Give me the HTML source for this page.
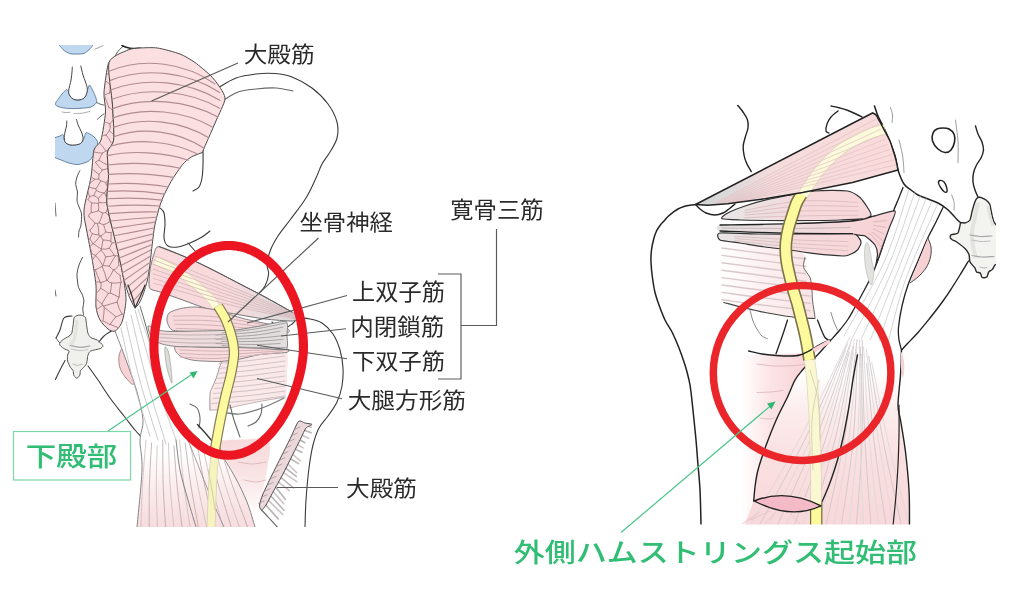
<!DOCTYPE html>
<html lang="ja">
<head>
<meta charset="utf-8">
<title>下殿部・外側ハムストリングス起始部</title>
<style>
html,body{margin:0;padding:0;background:#fff;}
body{width:1024px;height:590px;overflow:hidden;position:relative;font-family:"Liberation Sans","Noto Sans CJK JP",sans-serif;}
svg{position:absolute;left:0;top:0;display:block;}
.lbl{font-family:"Liberation Sans","Noto Sans CJK JP",sans-serif;fill:#2b2b2b;font-weight:400;}
.grn{font-family:"Liberation Sans","Noto Sans CJK JP",sans-serif;fill:#30bd74;font-weight:500;}
.ol{fill:none;stroke:#3a3a3a;stroke-width:1.1;stroke-linecap:round;stroke-linejoin:round;}
.olb{fill:none;stroke:#222;stroke-width:1.6;stroke-linecap:round;stroke-linejoin:round;}
.ld{fill:none;stroke:#5a5a5a;stroke-width:1.15;}
.fib{fill:none;stroke:#b98a8e;stroke-width:0.8;stroke-linecap:round;}
.fibw{fill:none;stroke:#c9c9c9;stroke-width:0.8;stroke-linecap:round;}
</style>
</head>
<body>
<svg width="1024" height="590" viewBox="0 0 1024 590">
<defs>
<filter id="soft" x="-5%" y="-5%" width="110%" height="110%"><feGaussianBlur stdDeviation="0.6"/></filter>
<clipPath id="clipL"><rect x="55" y="45" width="460" height="482"/></clipPath>
<clipPath id="clipR"><rect x="640" y="105" width="356" height="419.5"/></clipPath>
</defs>
<rect x="0" y="0" width="1024" height="590" fill="#ffffff"/>

<!-- ================= LEFT ILLUSTRATION ================= -->
<g id="left" clip-path="url(#clipL)" filter="url(#soft)">
<defs><linearGradient id="gHam" x1="0" y1="0" x2="0" y2="1"><stop offset="0" stop-color="#ffffff"/><stop offset="0.35" stop-color="#fbe9e9"/><stop offset="0.7" stop-color="#f6cfd1"/><stop offset="1" stop-color="#f6cfd1"/></linearGradient><linearGradient id="gAdd" gradientUnits="userSpaceOnUse" x1="0" y1="438" x2="0" y2="515"><stop offset="0" stop-color="#f7d9db"/><stop offset="0.45" stop-color="#f9e3e4"/><stop offset="0.8" stop-color="#fdf3f3"/><stop offset="1" stop-color="#ffffff"/></linearGradient><linearGradient id="gPiri" gradientUnits="userSpaceOnUse" x1="150" y1="0" x2="300" y2="0"><stop offset="0" stop-color="#fadadc"/><stop offset="0.5" stop-color="#f8dadc"/><stop offset="0.72" stop-color="#ebdcdd"/><stop offset="1" stop-color="#dad8d8"/></linearGradient><linearGradient id="gObt" gradientUnits="userSpaceOnUse" x1="150" y1="0" x2="286" y2="0"><stop offset="0" stop-color="#f2dcde"/><stop offset="0.5" stop-color="#ecdddd"/><stop offset="0.7" stop-color="#e5e0e0"/><stop offset="1" stop-color="#e0dede"/></linearGradient></defs>
<defs><linearGradient id="gHamFull" gradientUnits="userSpaceOnUse" x1="0" y1="300" x2="0" y2="527"><stop offset="0" stop-color="#ffffff"/><stop offset="0.68" stop-color="#ffffff"/><stop offset="0.8" stop-color="#fcefef"/><stop offset="0.92" stop-color="#f9e3e4"/><stop offset="1" stop-color="#f7dcde"/></linearGradient></defs>
<path style="fill:#bfd8f0;stroke:#58789a;stroke-width:0.9;" d="M59.0 44.0 C60.7 43.6 71.2 43.0 75.0 43.0 C78.8 43.0 90.1 43.5 92.0 44.0 C93.9 44.5 91.6 46.8 91.0 47.7 C90.4 48.6 87.9 50.8 87.0 51.5 C86.1 52.2 84.9 53.4 83.0 53.7 C81.1 54.0 73.2 54.3 71.0 53.9 C68.8 53.5 65.2 51.4 64.0 50.5 C62.8 49.6 61.1 47.3 60.5 46.5 C59.9 45.7 57.3 44.4 59.0 44.0 Z"/>
<path style="fill:#bfd8f0;stroke:#58789a;stroke-width:0.9;" d="M66.5 89.6 C65.8 89.9 63.0 92.8 62.0 94.0 C61.0 95.2 58.8 98.3 58.0 99.5 C57.2 100.7 55.0 103.2 55.0 104.0 C55.0 104.8 57.0 106.0 58.0 106.5 C59.0 107.0 62.4 107.8 64.0 108.0 C65.6 108.2 69.9 108.6 72.0 108.6 C74.1 108.6 79.8 108.4 82.0 108.2 C84.2 108.0 89.3 107.6 91.0 107.0 C92.7 106.4 95.7 104.0 96.3 103.0 C96.9 102.0 96.4 99.4 96.0 98.0 C95.6 96.6 93.7 92.5 93.0 91.0 C92.3 89.5 90.2 85.1 89.6 85.0 C89.0 84.9 88.0 88.6 87.5 90.0 C87.0 91.4 85.9 95.9 85.0 97.0 C84.1 98.1 81.3 99.5 80.0 99.8 C78.7 100.1 75.4 99.9 74.2 99.5 C73.0 99.1 70.7 97.0 70.0 96.0 C69.3 95.0 68.6 91.7 68.2 91.0 C67.8 90.3 67.2 89.2 66.5 89.6 Z"/>
<path style="fill:#bfd8f0;stroke:#58789a;stroke-width:0.9;" d="M63.2 134.7 C62.6 134.4 60.1 136.0 59.0 136.5 C57.9 137.0 54.6 136.7 54.0 139.0 C53.4 141.3 53.3 153.6 54.0 156.0 C54.7 158.4 58.2 158.7 60.0 159.5 C61.8 160.3 66.9 162.4 69.0 163.0 C71.1 163.6 75.8 164.7 78.0 164.5 C80.2 164.3 86.1 162.6 88.0 161.5 C89.9 160.4 93.0 156.6 94.0 155.0 C95.0 153.4 96.6 149.6 97.0 148.0 C97.4 146.4 97.9 142.7 97.4 141.3 C96.9 139.9 94.3 137.0 93.0 136.0 C91.7 135.0 87.3 132.4 86.3 132.5 C85.3 132.6 85.0 135.9 84.5 137.0 C84.0 138.1 82.8 141.1 82.0 142.0 C81.2 142.9 79.3 144.2 78.0 144.5 C76.7 144.8 72.4 145.2 71.0 145.0 C69.6 144.8 66.8 143.7 66.0 143.0 C65.2 142.3 64.3 140.0 64.0 139.0 C63.7 138.0 63.8 135.0 63.2 134.7 Z"/>
<path style="fill:#fff;" d="M72.3 67.0 C71.3 67.7 72.2 70.5 72.0 72.0 C71.8 73.5 71.4 77.8 71.0 80.0 C70.6 82.2 68.8 88.7 68.7 90.6 C68.6 92.5 69.4 95.0 70.0 96.0 C70.6 97.0 73.0 99.1 74.2 99.5 C75.4 99.9 78.7 100.1 80.0 99.8 C81.3 99.5 84.1 98.2 85.0 97.0 C85.9 95.8 87.3 91.3 87.4 89.6 C87.5 87.8 86.0 83.7 85.5 82.0 C85.0 80.3 83.5 76.9 83.0 75.0 C82.5 73.1 82.0 66.9 80.8 66.0 C79.6 65.1 73.3 66.3 72.3 67.0 Z"/>
<path class="ol" style="stroke:#444;stroke-width:1;" d="M72.3 67.0 C72.2 67.8 72.2 69.8 72.0 72.0 C71.8 74.2 71.5 76.9 71.0 80.0 C70.5 83.1 68.9 87.9 68.7 90.6 C68.5 93.3 69.1 94.5 70.0 96.0 C70.9 97.5 72.5 98.9 74.2 99.5 C75.9 100.1 78.2 100.2 80.0 99.8 C81.8 99.4 83.8 98.7 85.0 97.0 C86.2 95.3 87.3 92.1 87.4 89.6 C87.5 87.1 86.2 84.4 85.5 82.0 C84.8 79.6 83.8 77.7 83.0 75.0 C82.2 72.3 81.2 67.5 80.8 66.0"/>
<path style="fill:#fff;" d="M66.8 121.0 C65.6 121.8 66.7 124.7 66.5 126.0 C66.3 127.3 65.3 130.5 65.0 132.0 C64.7 133.5 64.2 137.7 64.3 139.0 C64.4 140.3 65.2 142.3 66.0 143.0 C66.8 143.7 69.6 144.8 71.0 145.0 C72.4 145.2 76.7 144.8 78.0 144.5 C79.3 144.2 81.4 142.9 82.0 142.0 C82.6 141.1 83.1 138.3 83.0 137.0 C82.9 135.7 81.5 132.3 81.0 131.0 C80.5 129.7 79.0 127.3 78.5 126.0 C78.0 124.7 77.8 120.1 76.4 119.5 C75.0 118.9 68.0 120.2 66.8 121.0 Z"/>
<path class="ol" style="stroke:#444;stroke-width:1;" d="M66.8 121.0 C66.8 121.8 66.8 124.2 66.5 126.0 C66.2 127.8 65.4 129.8 65.0 132.0 C64.6 134.2 64.1 137.2 64.3 139.0 C64.5 140.8 64.9 142.0 66.0 143.0 C67.1 144.0 69.0 144.8 71.0 145.0 C73.0 145.2 76.2 145.0 78.0 144.5 C79.8 144.0 81.2 143.2 82.0 142.0 C82.8 140.8 83.2 138.8 83.0 137.0 C82.8 135.2 81.8 132.8 81.0 131.0 C80.2 129.2 79.3 127.9 78.5 126.0 C77.7 124.1 76.8 120.6 76.4 119.5"/>
<path class="ol" style="stroke:#999;stroke-width:0.8;" d="M62.0 112.0 C62.7 112.1 64.7 112.5 66.0 112.6 C67.3 112.6 69.3 112.3 70.0 112.3"/>
<path class="ol" style="stroke:#999;stroke-width:0.8;" d="M74.0 113.5 C75.3 113.5 79.4 113.5 82.0 113.2 C84.6 112.9 88.2 111.8 89.5 111.5"/>
<path class="ol" style="stroke-width:0.8;" d="M97.4 102.8 C98.0 103.1 99.9 104.1 101.0 104.5 C102.1 104.9 103.5 104.9 104.0 105.0"/>
<path class="ol" style="stroke-width:0.8;" d="M97.4 119.3 C98.0 118.8 99.9 116.9 101.0 116.0 C102.1 115.1 103.5 114.2 104.0 113.8"/>
<path class="ol" style="stroke:#888;stroke-width:0.8;" d="M95.0 49.0 C95.7 48.8 97.7 48.1 99.0 47.5 C100.3 46.9 102.3 45.8 103.0 45.5"/>
<path class="ol" style="stroke:#444;stroke-width:0.9;" d="M112.8 61.0 C113.3 59.9 114.9 56.4 116.0 54.5 C117.1 52.6 118.3 50.8 119.5 49.5 C120.7 48.2 122.4 47.0 123.0 46.5"/>
<path class="ol" style="stroke:#222;stroke-width:1.6;" d="M122.0 45.5 C122.8 45.8 125.2 47.0 127.0 47.5 C128.8 48.0 130.7 48.4 133.0 48.5 C135.3 48.6 139.7 48.2 141.0 48.2"/>
<path class="ol" style="stroke-width:0.9;" d="M79.8 170.8 C79.3 171.8 77.7 174.7 77.0 177.0 C76.3 179.3 75.6 181.9 75.7 184.4 C75.8 186.9 77.3 189.3 77.5 192.0 C77.7 194.7 76.7 197.9 77.0 200.6 C77.3 203.3 78.8 205.8 79.5 208.0 C80.2 210.2 81.2 211.2 81.5 214.0 C81.8 216.8 81.4 222.2 81.0 225.0 C80.6 227.8 79.4 229.0 79.0 231.0 C78.6 233.0 78.6 236.0 78.5 237.0"/>
<path class="ol" style="stroke-width:0.9;" d="M82.5 257.5 C81.9 258.8 79.9 262.3 79.0 265.0 C78.1 267.7 77.2 271.1 77.0 273.8 C76.8 276.5 77.2 278.7 77.5 281.0 C77.8 283.3 77.8 285.2 78.5 287.4 C79.2 289.6 81.1 291.7 82.0 294.0 C82.9 296.3 83.8 298.7 83.9 301.0 C84.0 303.3 82.9 305.8 82.8 308.0 C82.7 310.2 83.4 313.4 83.5 314.5"/>
<path class="ol" style="stroke-width:0.8;" d="M55.0 203.0 C55.2 205.2 55.8 213.8 56.0 216.0"/>
<path class="ol" style="stroke-width:0.8;" d="M55.0 290.0 C55.2 291.0 55.8 295.0 56.0 296.0"/>
<path class="ol" style="stroke-width:0.8;" d="M56.0 338.0 C56.7 338.8 58.7 342.3 60.0 343.0 C61.3 343.7 63.3 342.2 64.0 342.0"/>
<path class="ol" d="M218.0 88.0 C221.0 86.3 229.7 80.3 236.0 78.0 C242.3 75.7 249.5 74.8 256.0 74.0 C262.5 73.2 269.0 73.0 275.0 73.5 C281.0 74.0 285.8 74.6 292.0 77.0 C298.2 79.4 306.0 83.5 312.0 88.0 C318.0 92.5 323.8 98.3 328.0 104.0 C332.2 109.7 335.5 116.3 337.0 122.0 C338.5 127.7 338.2 133.0 337.0 138.0 C335.8 143.0 332.5 147.7 330.0 152.0 C327.5 156.3 324.3 159.7 322.0 164.0 C319.7 168.3 318.7 172.3 316.0 178.0 C313.3 183.7 310.3 191.0 306.0 198.0 C301.7 205.0 294.7 213.7 290.0 220.0 C285.3 226.3 281.2 231.0 278.0 236.0 C274.8 241.0 272.3 245.3 270.5 250.0 C268.7 254.7 267.3 260.0 267.0 264.0 C266.7 268.0 268.9 270.3 268.6 274.0 C268.3 277.7 266.8 282.7 265.0 286.0 C263.2 289.3 259.2 292.7 258.0 294.0"/>
<path class="ol" style="stroke:#666;" d="M224.0 100.0 C226.3 98.7 232.7 93.8 238.0 92.0 C243.3 90.2 249.7 89.7 256.0 89.0 C262.3 88.3 269.8 87.7 276.0 88.0 C282.2 88.3 290.2 90.5 293.0 91.0"/>
<path class="ol" d="M203.0 150.0 C203.0 152.5 203.2 160.3 203.0 165.0 C202.8 169.7 202.7 174.3 202.0 178.0 C201.3 181.7 200.5 184.8 199.0 187.0 C197.5 189.2 194.0 190.3 193.0 191.0"/>
<path class="ol" d="M160.0 208.0 C160.7 208.8 163.2 210.2 164.0 213.0 C164.8 215.8 165.0 220.8 165.0 225.0 C165.0 229.2 163.5 234.5 164.0 238.0 C164.5 241.5 165.7 244.5 168.0 246.0 C170.3 247.5 174.3 247.5 178.0 247.0 C181.7 246.5 186.0 244.7 190.0 243.0 C194.0 241.3 198.7 239.0 202.0 237.0 C205.3 235.0 208.7 232.0 210.0 231.0"/>
<path class="ol" d="M188.0 243.0 C189.3 244.5 194.7 250.5 196.0 252.0"/>
<path class="ol" d="M300.0 318.0 C301.7 318.2 306.3 318.2 310.0 319.0 C313.7 319.8 318.2 320.5 322.0 323.0 C325.8 325.5 330.0 329.5 333.0 334.0 C336.0 338.5 338.3 344.3 340.0 350.0 C341.7 355.7 342.7 362.0 343.0 368.0 C343.3 374.0 343.0 380.3 342.0 386.0 C341.0 391.7 339.3 397.0 337.0 402.0 C334.7 407.0 331.0 411.7 328.0 416.0 C325.0 420.3 321.5 423.2 319.0 428.0 C316.5 432.8 314.7 438.3 313.0 445.0 C311.3 451.7 310.2 458.8 309.0 468.0 C307.8 477.2 306.7 490.2 306.0 500.0 C305.3 509.8 305.2 522.5 305.0 527.0"/>
<path class="ol" d="M272.0 322.0 C272.8 322.8 274.8 326.0 277.0 327.0 C279.2 328.0 282.5 328.5 285.0 328.0 C287.5 327.5 290.0 325.5 292.0 324.0 C294.0 322.5 296.2 319.8 297.0 319.0"/>
<path style="fill:#f0f1ec;stroke:#555;stroke-width:1;" d="M74.4 317.1 C75.2 315.9 78.6 315.0 79.9 315.0 C81.2 315.0 84.5 315.9 85.3 317.1 C86.1 318.3 86.3 323.4 86.6 325.3 C86.9 327.2 87.5 332.0 88.0 333.4 C88.5 334.8 89.6 336.7 90.7 337.5 C91.8 338.3 96.1 339.3 97.5 340.2 C98.9 341.1 102.6 344.6 102.9 345.6 C103.2 346.6 101.6 348.0 100.2 348.6 C98.8 349.2 92.1 350.3 90.7 351.0 C89.3 351.7 88.5 353.6 88.0 355.0 C87.5 356.4 87.2 361.7 86.6 363.3 C86.0 364.9 83.3 367.9 82.6 368.7 C81.9 369.5 80.7 369.8 80.4 370.5 C80.1 371.2 80.3 374.1 79.9 375.0 C79.5 375.9 77.8 378.1 77.1 378.2 C76.4 378.3 74.4 376.4 73.9 375.5 C73.4 374.6 73.4 371.5 73.0 370.5 C72.6 369.5 71.0 368.4 70.4 367.3 C69.8 366.2 67.9 362.4 67.6 361.0 C67.3 359.6 67.4 356.2 67.6 355.0 C67.8 353.8 69.5 351.8 69.0 351.0 C68.5 350.2 64.7 349.3 63.6 348.5 C62.5 347.7 59.7 345.3 59.5 344.3 C59.3 343.3 61.1 341.2 62.2 340.2 C63.3 339.2 67.9 336.9 69.0 336.1 C70.1 335.3 71.2 334.7 71.7 333.4 C72.2 332.1 72.8 327.2 73.1 325.3 C73.4 323.4 73.6 318.3 74.4 317.1 Z"/>
<path style="fill:none;stroke:#e2e4dd;stroke-width:3.5;" d="M77.0 320.0 C76.8 321.7 76.5 326.7 76.0 330.0 C75.5 333.3 75.0 337.5 74.0 340.0 C73.0 342.5 70.7 344.2 70.0 345.0"/>
<path class="ol" style="stroke:#a5a5a5;stroke-width:1.2;" d="M70.0 345.5 C71.7 345.8 76.7 347.2 80.0 347.3 C83.3 347.4 88.3 346.2 90.0 346.0"/>
<path class="ol" style="stroke:#bbb;stroke-width:0.9;" d="M71.0 349.0 C72.5 349.3 77.2 350.5 80.0 350.6 C82.8 350.7 86.7 349.7 88.0 349.5"/>
<path class="ol" style="stroke:#aaa;stroke-width:0.8;" d="M73.0 364.0 C73.7 364.2 75.5 365.2 77.0 365.3 C78.5 365.4 81.2 364.5 82.0 364.3"/>
<path class="ol" d="M72.0 316.0 C70.7 316.3 66.0 315.7 64.0 318.0 C62.0 320.3 61.3 326.7 60.0 330.0 C58.7 333.3 56.7 336.7 56.0 338.0"/>
<path class="ol" d="M65.0 360.5 C64.2 362.1 61.6 366.8 60.0 370.0 C58.4 373.2 56.2 377.9 55.4 379.5"/>
<path class="ol" d="M88.0 366.0 C89.7 368.3 94.3 374.7 98.0 380.0 C101.7 385.3 105.7 392.0 110.0 398.0 C114.3 404.0 119.8 410.7 124.0 416.0 C128.2 421.3 132.2 426.6 135.0 430.0 C137.8 433.4 140.0 435.4 141.0 436.5"/>
<path class="ol" d="M99.0 342.0 C99.8 341.0 101.8 337.9 104.0 336.0 C106.2 334.1 110.7 331.4 112.0 330.5"/>
<path style="fill:#f7d3d6;stroke:#866;stroke-width:0.7;" d="M123.0 347.0 C121.7 348.0 119.5 352.5 119.0 356.0 C118.5 359.5 118.8 364.3 120.0 368.0 C121.2 371.7 123.7 375.3 126.0 378.0 C128.3 380.7 132.8 386.2 134.0 384.0 C135.2 381.8 134.2 370.7 133.0 365.0 C131.8 359.3 128.7 353.0 127.0 350.0 C125.3 347.0 124.3 346.0 123.0 347.0 Z"/>
<path style="fill:url(#gAdd);" d="M217.0 444.0 C216.2 439.8 224.7 440.5 228.0 440.0 C231.3 439.5 241.5 439.7 245.0 439.5 C248.5 439.3 255.3 438.7 258.0 438.5 C260.7 438.3 266.6 436.2 268.0 437.5 C269.4 438.8 270.1 446.2 270.0 450.0 C269.9 453.8 267.8 465.3 267.0 470.0 C266.2 474.7 263.7 485.3 263.0 490.0 C262.3 494.7 261.1 505.7 261.0 510.0 C260.9 514.3 261.4 521.2 262.0 527.0 C262.6 532.8 267.4 556.1 266.0 560.0 C264.6 563.9 251.5 563.9 250.0 560.0 C248.5 556.1 253.7 534.0 253.0 527.0 C252.3 520.0 246.1 505.9 244.0 500.0 C241.9 494.1 238.2 482.5 235.0 476.0 C231.8 469.5 217.8 448.2 217.0 444.0 Z"/>
<path class="fib" style="stroke:#d9b0b4;" d="M238.0 462.0 C240.3 462.3 247.3 464.0 252.0 464.0 C256.7 464.0 263.7 462.3 266.0 462.0"/>
<path class="fib" style="stroke:#d9b0b4;" d="M244.0 480.0 C246.0 480.3 252.3 482.0 256.0 482.0 C259.7 482.0 264.3 480.3 266.0 480.0"/>
<path style="fill:url(#gHamFull);" d="M115.0 331.0 C114.5 326.5 119.7 328.5 122.0 326.0 C124.3 323.5 129.6 314.7 132.0 312.0 C134.4 309.3 138.0 303.6 140.0 306.0 C142.0 308.4 144.7 321.7 147.0 330.0 C149.3 338.3 153.9 358.7 157.0 368.0 C160.1 377.3 166.4 392.5 170.0 400.0 C173.6 407.5 180.0 418.7 184.0 424.0 C188.0 429.3 195.2 436.3 200.0 440.0 C204.8 443.7 215.3 447.1 220.0 452.0 C224.7 456.9 231.4 470.3 235.0 477.0 C238.6 483.7 244.3 495.3 247.0 502.0 C249.7 508.7 253.4 521.3 255.0 527.0 C256.6 532.7 258.1 540.6 259.0 545.0 C259.9 549.4 279.2 558.0 262.0 560.0 C244.8 562.0 146.9 562.0 130.0 560.0 C113.1 558.0 134.1 549.4 135.0 545.0 C135.9 540.6 136.1 537.0 137.0 527.0 C137.9 517.0 141.6 481.6 142.0 470.0 C142.4 458.4 139.9 446.7 140.0 440.0 C140.1 433.3 143.4 426.4 143.0 420.0 C142.6 413.6 139.3 400.0 137.0 392.0 C134.7 384.0 128.9 368.1 126.0 360.0 C123.1 351.9 115.5 335.5 115.0 331.0 Z"/>
<path class="ol" style="stroke:#777;stroke-width:0.9;" d="M115.0 331.0 C116.8 335.8 122.3 349.8 126.0 360.0 C129.7 370.2 134.2 382.0 137.0 392.0 C139.8 402.0 142.5 412.0 143.0 420.0 C143.5 428.0 140.2 431.7 140.0 440.0 C139.8 448.3 142.5 455.5 142.0 470.0 C141.5 484.5 137.8 517.5 137.0 527.0"/>
<path class="ol" style="stroke:#555;stroke-width:0.9;" d="M140.0 306.0 C141.2 310.0 144.2 319.7 147.0 330.0 C149.8 340.3 153.2 356.3 157.0 368.0 C160.8 379.7 165.5 390.7 170.0 400.0 C174.5 409.3 179.0 417.3 184.0 424.0 C189.0 430.7 197.3 437.3 200.0 440.0"/>
<path class="ol" style="stroke:#777;stroke-width:0.9;" d="M220.0 452.0 C222.5 456.2 230.5 468.7 235.0 477.0 C239.5 485.3 243.7 493.7 247.0 502.0 C250.3 510.3 253.7 522.8 255.0 527.0"/>
<path class="fibw" style="stroke:#bdbdbd;" d="M121.0 328.0 C123.1 337.0 128.7 364.0 133.5 382.0 C138.3 400.0 147.2 427.0 150.0 436.0"/>
<path class="fibw" style="stroke:#bdbdbd;" d="M126.0 322.0 C128.3 331.8 134.7 361.3 140.0 381.0 C145.3 400.7 155.0 430.2 158.0 440.0"/>
<path class="fibw" style="stroke:#bdbdbd;" d="M131.0 315.0 C133.6 325.8 140.7 358.0 146.5 379.5 C152.3 401.0 162.8 433.2 166.0 444.0"/>
<path class="fibw" style="stroke:#bdbdbd;" d="M135.0 310.0 C138.1 320.8 146.7 353.3 153.5 375.0 C160.3 396.7 172.2 429.2 176.0 440.0"/>
<path class="fibw" style="stroke:#bdbdbd;" d="M138.0 309.0 C141.7 319.6 152.0 351.3 160.0 372.5 C168.0 393.7 181.7 425.4 186.0 436.0"/>
<path class="fibw" style="stroke:#cbb;stroke-width:0.8;" d="M146.0 440.0 C145.4 447.5 143.3 470.5 142.5 485.0 C141.7 499.5 141.2 520.0 141.0 527.0"/>
<path class="fibw" style="stroke:#b9a6a8;stroke-width:0.8;" d="M151.6 443.0 C151.2 450.0 149.8 471.0 149.4 485.0 C149.0 499.0 149.2 520.0 149.2 527.0"/>
<path class="fibw" style="stroke:#cbb;stroke-width:0.8;" d="M157.2 446.0 C157.0 452.5 156.3 471.5 156.3 485.0 C156.3 498.5 157.2 520.0 157.4 527.0"/>
<path class="fibw" style="stroke:#b9a6a8;stroke-width:0.8;" d="M162.8 440.0 C162.9 447.5 162.7 470.5 163.2 485.0 C163.7 499.5 165.2 520.0 165.6 527.0"/>
<path class="fibw" style="stroke:#cbb;stroke-width:0.8;" d="M168.4 443.0 C168.7 450.0 169.2 471.0 170.1 485.0 C171.0 499.0 173.2 520.0 173.8 527.0"/>
<path class="fibw" style="stroke:#b9a6a8;stroke-width:0.8;" d="M174.0 446.0 C174.5 452.5 175.7 471.5 177.0 485.0 C178.3 498.5 181.2 520.0 182.0 527.0"/>
<path class="fibw" style="stroke:#cbb;stroke-width:0.8;" d="M179.6 440.0 C180.3 447.5 182.1 470.5 183.9 485.0 C185.7 499.5 189.1 520.0 190.2 527.0"/>
<path class="fibw" style="stroke:#b9a6a8;stroke-width:0.8;" d="M185.2 443.0 C186.1 450.0 188.6 471.0 190.8 485.0 C193.0 499.0 197.1 520.0 198.4 527.0"/>
<path class="fibw" style="stroke:#cbb;stroke-width:0.8;" d="M190.8 446.0 C192.0 452.5 195.1 471.5 197.7 485.0 C200.3 498.5 205.1 520.0 206.6 527.0"/>
<path class="fibw" style="stroke:#b9a6a8;stroke-width:0.8;" d="M196.4 440.0 C197.8 447.5 201.5 470.5 204.6 485.0 C207.7 499.5 213.1 520.0 214.8 527.0"/>
<path class="fibw" style="stroke:#cbb;stroke-width:0.8;" d="M202.0 443.0 C203.6 450.0 208.0 471.0 211.5 485.0 C215.0 499.0 221.1 520.0 223.0 527.0"/>
<path class="fibw" style="stroke:#b9a6a8;stroke-width:0.8;" d="M207.6 446.0 C209.4 452.5 214.5 471.5 218.4 485.0 C222.3 498.5 229.1 520.0 231.2 527.0"/>
<path class="fibw" style="stroke:#cbb;stroke-width:0.8;" d="M213.2 440.0 C215.2 447.5 220.9 470.5 225.3 485.0 C229.7 499.5 237.0 520.0 239.4 527.0"/>
<path class="fibw" style="stroke:#b9a6a8;stroke-width:0.8;" d="M218.8 443.0 C221.0 450.0 227.4 471.0 232.2 485.0 C237.0 499.0 245.0 520.0 247.6 527.0"/>
<path class="ol" style="stroke:#777;stroke-width:0.9;" d="M176.0 440.0 C176.7 445.0 178.0 460.0 180.0 470.0 C182.0 480.0 185.3 490.5 188.0 500.0 C190.7 509.5 194.7 522.5 196.0 527.0"/>
<path class="ol" style="stroke:#888;stroke-width:0.8;" d="M186.0 436.0 C187.7 440.0 191.7 449.3 196.0 460.0 C200.3 470.7 207.3 488.8 212.0 500.0 C216.7 511.2 222.0 522.5 224.0 527.0"/>
<path style="fill:none;stroke:#d4cfaa;stroke-width:8.6;" d="M216.0 448.0 C215.6 451.7 214.2 461.3 213.5 470.0 C212.8 478.7 212.4 490.5 212.0 500.0 C211.6 509.5 211.2 522.5 211.0 527.0"/>
<path style="fill:none;stroke:#f6f3c0;stroke-width:7.2;" d="M216.0 448.0 C215.6 451.7 214.2 461.3 213.5 470.0 C212.8 478.7 212.4 490.5 212.0 500.0 C211.6 509.5 211.2 522.5 211.0 527.0"/>
<path class="fibw" style="stroke:#c9c49a;" d="M208.0 470.0 C208.7 473.3 210.8 483.3 212.0 490.0 C213.2 496.7 214.5 506.7 215.0 510.0"/>
<path style="fill:#fadcde;stroke:#4a4a4a;stroke-width:1;" d="M109.0 62.5 C107.9 60.8 104.5 85.4 104.0 92.0 C103.5 98.6 105.9 105.6 105.5 112.0 C105.1 118.4 102.5 134.9 101.0 140.0 C99.5 145.1 95.3 145.1 94.0 150.0 C92.7 154.9 92.3 169.0 91.0 177.0 C89.7 185.0 84.6 202.8 84.0 210.0 C83.4 217.2 85.7 224.5 86.8 231.0 C87.9 237.5 90.8 251.2 92.0 258.5 C93.2 265.8 95.5 279.1 96.0 285.6 C96.5 292.1 95.5 302.4 96.0 307.0 C96.5 311.6 98.4 317.1 100.0 320.0 C101.6 322.9 106.0 327.5 108.0 329.0 C110.0 330.5 113.1 331.9 115.0 331.0 C116.9 330.1 120.5 326.1 122.0 322.0 C123.5 317.9 125.8 305.9 126.0 300.0 C126.2 294.1 124.1 282.3 123.4 277.5 C122.7 272.7 121.8 269.1 120.7 264.0 C119.6 258.9 116.8 247.5 115.0 239.5 C113.2 231.5 107.9 212.3 107.0 204.0 C106.1 195.7 108.4 183.9 108.5 177.0 C108.6 170.1 106.8 156.9 107.5 152.0 C108.2 147.1 113.0 146.3 113.7 140.0 C114.4 133.7 113.1 115.3 112.5 105.0 C111.9 94.7 110.1 64.2 109.0 62.5 Z"/>
<clipPath id="cStrip"><path d="M109.0 62.5 C107.9 60.8 104.5 85.4 104.0 92.0 C103.5 98.6 105.9 105.6 105.5 112.0 C105.1 118.4 102.5 134.9 101.0 140.0 C99.5 145.1 95.3 145.1 94.0 150.0 C92.7 154.9 92.3 169.0 91.0 177.0 C89.7 185.0 84.6 202.8 84.0 210.0 C83.4 217.2 85.7 224.5 86.8 231.0 C87.9 237.5 90.8 251.2 92.0 258.5 C93.2 265.8 95.5 279.1 96.0 285.6 C96.5 292.1 95.5 302.4 96.0 307.0 C96.5 311.6 98.4 317.1 100.0 320.0 C101.6 322.9 106.0 327.5 108.0 329.0 C110.0 330.5 113.1 331.9 115.0 331.0 C116.9 330.1 120.5 326.1 122.0 322.0 C123.5 317.9 125.8 305.9 126.0 300.0 C126.2 294.1 124.1 282.3 123.4 277.5 C122.7 272.7 121.8 269.1 120.7 264.0 C119.6 258.9 116.8 247.5 115.0 239.5 C113.2 231.5 107.9 212.3 107.0 204.0 C106.1 195.7 108.4 183.9 108.5 177.0 C108.6 170.1 106.8 156.9 107.5 152.0 C108.2 147.1 113.0 146.3 113.7 140.0 C114.4 133.7 113.1 115.3 112.5 105.0 C111.9 94.7 110.1 64.2 109.0 62.5 Z"/></clipPath>
<path clip-path="url(#cStrip)" d="M109.4 130.6 Q111.6 133.6 115.5 135.4M109.4 130.6 Q107.4 133.5 106.0 134.9M111.3 143.0 Q108.8 138.1 106.0 134.9M88.0 199.6 Q89.3 198.3 89.6 196.7M89.6 196.7 Q88.0 192.2 86.5 187.1M102.5 153.1 Q100.6 155.8 99.0 160.2M102.5 153.1 Q105.0 151.6 106.0 150.9M109.2 151.1 Q107.1 150.1 106.0 150.9M107.3 164.8 Q103.6 163.3 99.0 160.2M94.2 152.0 Q98.2 153.2 102.5 153.1M95.4 162.3 Q96.9 161.0 99.0 160.2M93.9 195.5 Q94.7 192.6 96.4 190.5M93.9 195.5 Q96.2 196.7 98.3 198.5M96.4 190.5 Q99.1 192.2 103.5 193.1M103.5 193.1 Q100.6 195.6 98.3 198.5M88.0 199.6 Q89.1 200.4 91.6 203.0M91.6 203.0 Q95.3 203.0 98.4 203.4M98.4 203.4 Q99.6 202.0 99.1 202.6M89.6 196.7 Q92.4 195.2 93.9 195.5M98.3 198.5 Q98.0 199.6 99.1 202.6M103.5 193.1 Q104.1 192.7 104.6 192.9M104.6 192.9 Q106.2 197.9 108.5 200.9M99.1 202.6 Q103.6 203.3 107.8 202.3M106.0 134.9 Q103.7 135.4 99.9 136.5M106.0 150.9 Q103.0 146.3 99.4 143.0M122.1 329.0 Q115.9 327.0 110.2 324.3M110.2 324.3 Q113.2 319.7 115.9 316.7M115.9 316.7 Q118.1 316.0 122.1 314.3M123.4 314.6 Q123.1 314.7 122.1 314.3M109.7 324.6 Q109.4 325.0 110.2 324.3M107.9 187.4 Q106.4 189.4 104.6 192.9M91.6 203.0 Q90.7 208.1 91.2 212.7M98.4 203.4 Q99.3 207.2 98.4 210.8M98.4 210.8 Q94.4 212.2 91.2 212.7M91.2 212.7 Q89.6 213.8 89.2 214.3M111.4 93.1 Q110.3 92.0 109.6 92.8M108.9 107.6 Q106.6 101.3 104.3 95.0M108.9 107.6 Q110.4 108.2 110.3 108.0M109.6 92.8 Q106.6 94.2 104.3 95.0M110.3 108.0 Q111.9 110.2 114.5 111.8M87.0 165.0 Q93.2 169.9 99.0 174.4M95.4 162.3 Q98.2 166.6 102.4 170.1M99.0 174.4 Q100.8 172.7 102.4 170.1M107.3 164.8 Q107.0 166.8 108.6 167.9M102.4 170.1 Q106.4 169.2 108.6 167.9M122.1 314.3 Q118.8 309.0 117.1 302.1M117.1 302.1 Q118.1 299.2 118.8 297.2M119.1 297.0 Q119.2 297.8 118.8 297.2M95.8 188.8 Q90.7 187.8 87.1 186.6M95.8 188.8 Q98.5 185.7 100.6 181.0M87.1 186.6 Q89.9 182.9 94.7 179.3M94.7 179.3 Q97.2 179.4 98.7 178.9M98.7 178.9 Q100.4 180.3 100.6 181.0M96.4 190.5 Q96.4 189.9 95.8 188.8M107.9 187.4 Q106.2 185.8 105.8 182.7M105.8 182.7 Q103.2 180.9 100.6 181.0M87.5 174.6 Q91.7 177.3 94.7 179.3M99.0 174.4 Q99.2 175.8 98.7 178.9M105.8 182.7 Q108.6 179.6 110.6 177.2M110.0 217.5 Q108.5 214.4 105.7 212.6M105.7 212.6 Q107.0 209.3 108.8 207.6M102.7 213.1 Q99.6 211.6 98.4 210.8M102.7 213.1 Q104.6 212.7 105.7 212.6M89.8 230.2 Q90.7 232.8 92.4 233.7M89.8 230.2 Q92.9 227.7 95.1 223.2M95.1 223.2 Q95.9 222.7 97.4 223.5M97.4 223.5 Q99.1 228.4 98.9 234.9M98.9 234.9 Q96.2 235.2 92.4 233.7M102.7 213.1 Q101.4 218.2 99.2 222.9M99.2 222.9 Q98.0 222.8 97.4 223.5M89.2 214.3 Q88.1 215.2 88.7 216.6M88.7 216.6 Q91.9 219.4 95.1 223.2M105.9 232.0 Q109.5 233.3 111.2 232.5M105.9 232.0 Q104.4 228.5 103.7 224.6M109.0 222.3 Q107.1 223.6 103.7 224.6M99.2 222.9 Q101.2 224.5 103.7 224.6M100.8 236.0 Q103.4 234.2 105.9 232.0M100.8 236.0 Q100.9 235.5 100.1 235.8M100.1 235.8 Q99.9 234.9 98.9 234.9M110.0 217.5 Q109.8 219.4 109.0 222.3M110.2 84.7 Q107.7 82.0 104.0 80.0M111.0 73.6 Q110.0 73.2 107.1 74.2M109.6 92.8 Q110.4 89.4 110.2 84.7M109.7 123.9 Q113.7 120.0 116.2 116.1M109.7 123.9 Q106.5 122.3 103.1 121.4M109.4 130.6 Q110.5 128.8 110.3 126.0M109.7 123.9 Q110.0 125.0 110.3 126.0M109.7 324.6 Q107.2 322.8 102.9 320.8M115.9 316.7 Q109.3 311.3 104.3 307.4M102.9 320.8 Q104.1 314.2 104.3 307.4M117.1 302.1 Q110.5 303.9 103.7 306.1M104.3 307.4 Q103.0 307.3 103.7 306.1M101.4 249.1 Q101.2 249.1 101.5 249.2M101.4 249.1 Q102.2 243.8 103.1 240.0M101.5 249.2 Q106.3 249.6 109.3 248.2M103.1 240.0 Q106.0 239.7 110.8 241.2M109.3 248.2 Q110.5 246.5 112.1 242.8M112.1 242.8 Q111.4 242.9 110.8 241.2M100.8 236.0 Q101.6 238.0 103.1 240.0M100.1 235.8 Q97.3 240.1 93.3 243.7M93.3 243.7 Q97.0 246.3 101.4 249.1M111.2 232.5 Q111.3 236.7 110.8 241.2M116.9 242.9 Q113.9 242.3 112.1 242.8M117.5 255.7 Q117.0 255.2 115.5 255.8M115.5 255.8 Q114.3 255.1 114.4 255.3M114.4 255.3 Q112.8 252.7 109.3 248.2M118.9 265.4 Q118.5 260.5 118.2 256.7M117.5 255.7 Q117.7 257.0 118.2 256.7M113.8 270.1 Q117.1 273.5 120.1 275.4M113.8 270.1 Q114.4 270.7 113.4 270.0M113.4 270.0 Q111.1 275.2 107.2 280.4M120.1 275.4 Q120.0 279.3 121.3 282.1M111.7 283.1 Q117.2 283.2 120.8 282.5M111.7 283.1 Q108.9 282.6 107.2 280.4M121.3 282.1 Q121.9 283.2 120.8 282.5M118.9 265.4 Q116.7 268.6 113.8 270.1M115.5 255.8 Q111.8 261.2 109.2 266.3M109.2 266.3 Q112.3 269.1 113.4 270.0M110.3 292.9 Q115.2 295.2 118.8 297.2M110.3 292.9 Q111.2 287.8 111.7 283.1M119.1 297.0 Q119.4 290.6 120.8 282.5M110.3 292.9 Q109.5 292.9 108.3 293.5M103.7 306.1 Q102.8 305.1 102.6 305.4M102.6 305.4 Q101.6 305.0 101.9 303.9M101.9 303.9 Q104.7 298.3 108.3 293.5M106.8 280.4 Q107.7 279.6 107.2 280.4M106.8 280.4 Q104.8 281.3 101.1 282.6M101.1 282.6 Q101.5 286.1 100.6 288.3M108.3 293.5 Q104.8 290.0 100.6 288.3M93.3 243.7 Q93.3 243.6 92.7 243.7M92.4 233.7 Q90.7 236.4 89.9 239.0M92.7 243.7 Q91.6 241.1 89.9 239.0M102.6 305.4 Q97.5 308.6 92.7 313.0M102.7 265.6 Q102.1 265.8 102.8 265.6M102.7 265.6 Q100.1 259.8 95.6 255.6M102.8 265.6 Q104.6 261.4 105.7 256.8M105.7 256.8 Q103.9 253.1 101.1 250.2M101.1 250.2 Q97.9 252.4 95.6 255.4M95.6 255.6 Q96.2 256.2 95.6 255.4M102.1 266.4 Q105.1 272.9 106.8 280.4M102.1 266.4 Q102.2 265.6 102.7 265.6M109.2 266.3 Q106.4 265.4 102.8 265.6M114.4 255.3 Q110.6 256.6 105.7 256.8M101.5 249.2 Q101.4 249.0 101.1 250.2M91.8 253.5 Q93.2 254.6 95.6 255.4M91.8 253.5 Q91.1 249.5 89.5 246.7M89.5 246.7 Q91.4 246.0 92.7 243.7M101.9 303.9 Q99.3 301.9 95.7 298.4M100.6 288.3 Q99.1 290.7 95.8 294.0M101.1 282.6 Q100.0 283.1 100.1 282.0M92.5 282.5 Q96.0 281.5 100.1 282.0M95.6 255.6 Q92.9 259.6 89.7 263.6M92.5 268.2 Q93.3 269.9 95.5 269.9M95.5 269.9 Q95.4 271.0 95.4 270.1M100.1 282.0 Q97.3 275.2 95.4 270.1M102.1 266.4 Q99.6 267.7 95.5 269.9" fill="none" stroke="#a9858b" stroke-width="1" stroke-linecap="round"/>
<path style="fill:#fcdfe0;stroke:#4a4a4a;stroke-width:1;" d="M109.0 62.5 C107.2 68.9 112.0 96.0 112.5 105.0 C113.0 114.0 114.3 134.5 113.7 140.0 C113.1 145.5 108.1 147.7 107.5 152.0 C106.9 156.3 108.6 170.9 108.5 177.0 C108.4 183.1 106.2 196.7 107.0 204.0 C107.8 211.3 113.4 232.5 115.0 239.5 C116.6 246.5 119.7 259.6 120.7 264.0 C121.7 268.4 122.4 273.8 123.4 277.5 C124.4 281.2 127.7 292.6 129.0 296.0 C130.3 299.4 133.4 305.9 134.5 307.0 C135.6 308.1 137.1 306.1 138.0 305.0 C138.9 303.9 140.9 300.1 142.0 297.4 C143.1 294.7 146.1 285.5 147.0 282.0 C147.9 278.5 149.0 271.1 149.6 267.0 C150.2 262.9 151.4 251.3 152.0 246.5 C152.6 241.7 153.8 230.7 154.7 226.0 C155.6 221.3 158.6 209.6 159.8 205.8 C161.0 202.0 163.4 196.4 164.9 193.2 C166.4 190.0 170.9 181.6 173.0 178.3 C175.1 175.0 180.4 167.1 182.5 164.7 C184.6 162.2 188.4 158.7 190.7 157.3 C193.0 155.9 200.9 153.1 202.2 152.5 C203.5 151.9 201.4 154.3 202.2 152.5 C203.0 150.7 207.3 140.8 209.0 137.0 C210.7 133.2 214.5 124.4 216.4 120.0 C218.3 115.6 224.7 103.0 225.0 99.0 C225.3 95.0 220.8 88.8 219.0 86.0 C217.2 83.2 212.8 77.7 210.0 75.0 C207.2 72.3 198.5 65.0 195.0 62.5 C191.5 60.0 184.4 55.7 180.0 54.0 C175.6 52.3 162.2 48.7 157.5 48.0 C152.8 47.3 143.4 47.8 140.0 48.0 C136.6 48.2 131.6 48.3 128.0 50.0 C124.4 51.7 110.8 56.1 109.0 62.5 Z"/>
<path class="fib" style="stroke:#b08d92;stroke-width:1.15;" d="M109.7 71.0 C143.5 56.8 185.5 62.9 215.0 84.0"/>
<path class="fib" style="stroke:#b08d92;stroke-width:1.15;" d="M110.5 80.4 C145.2 66.5 188.8 72.2 219.7 92.5"/>
<path class="fib" style="stroke:#b08d92;stroke-width:1.15;" d="M111.2 89.8 C145.4 76.4 188.8 81.4 219.8 100.3"/>
<path class="fib" style="stroke:#b08d92;stroke-width:1.15;" d="M112.0 99.2 C145.6 86.3 188.6 90.7 219.6 108.2"/>
<path class="fib" style="stroke:#b08d92;stroke-width:1.15;" d="M112.6 108.6 C145.3 96.3 187.3 100.3 217.8 117.0"/>
<path class="fib" style="stroke:#b08d92;stroke-width:1.15;" d="M112.9 118.0 C144.4 106.2 184.4 110.6 213.2 127.4"/>
<path class="fib" style="stroke:#b08d92;stroke-width:1.15;" d="M113.3 127.4 C143.5 116.1 181.5 121.0 208.7 137.8"/>
<path class="fib" style="stroke:#b08d92;stroke-width:1.15;" d="M113.6 136.8 C142.5 126.0 178.7 131.3 204.1 148.3"/>
<path class="fib" style="stroke:#b08d92;stroke-width:1.15;" d="M110.5 146.2 C137.4 137.9 171.9 141.4 196.9 153.8"/>
<path class="fib" style="stroke:#b08d92;stroke-width:1.15;" d="M107.6 155.6 C132.3 150.1 164.5 152.2 188.4 160.2"/>
<path class="fib" style="stroke:#b08d92;stroke-width:1.15;" d="M108.0 165.0 C129.9 161.9 158.8 163.4 180.2 168.3"/>
<path class="fib" style="stroke:#b08d92;stroke-width:1.15;" d="M108.4 174.4 C128.1 172.8 154.2 174.1 173.7 177.4"/>
<path class="fib" style="stroke:#b08d92;stroke-width:1.15;" d="M108.1 184.0 C126.3 182.7 150.4 184.0 168.3 187.0"/>
<path class="fib" style="stroke:#b08d92;stroke-width:1.15;" d="M107.7 191.4 C124.9 190.3 147.6 191.5 164.6 194.1"/>
<path class="fib" style="stroke:#b08d92;stroke-width:1.15;" d="M107.3 198.8 C123.9 197.7 146.0 198.2 162.5 200.1"/>
<path class="fib" style="stroke:#b08d92;stroke-width:1.15;" d="M107.5 206.2 C123.4 205.0 144.5 205.0 160.4 206.0"/>
<path class="fib" style="stroke:#b08d92;stroke-width:1.15;" d="M109.2 213.6 C123.9 212.3 143.5 211.7 158.3 212.0"/>
<path class="fib" style="stroke:#b08d92;stroke-width:1.15;" d="M110.8 221.0 C124.5 219.5 142.7 218.0 156.4 217.3"/>
<path class="fib" style="stroke:#b08d92;stroke-width:1.15;" d="M112.5 228.4 C125.2 226.5 142.1 224.0 154.8 222.1"/>
<path class="fib" style="stroke:#b08d92;stroke-width:1.15;" d="M114.2 235.8 C126.1 233.5 142.0 230.3 154.0 228.0"/>
<path class="fib" style="stroke:#b08d92;stroke-width:1.15;" d="M115.9 243.2 C127.1 240.4 142.0 236.7 153.2 233.9"/>
<path class="fib" style="stroke:#b08d92;stroke-width:1.15;" d="M117.6 250.6 C128.0 247.3 142.0 242.9 152.4 239.6"/>
<path class="fib" style="stroke:#b08d92;stroke-width:1.15;" d="M119.3 258.0 C129.0 254.0 142.0 248.8 151.7 244.8"/>
<path class="fib" style="stroke:#b08d92;stroke-width:1.15;" d="M121.0 265.4 C129.9 260.8 141.9 254.6 150.8 250.0"/>
<path class="fib" style="stroke:#b08d92;stroke-width:1.15;" d="M122.5 272.8 C130.7 267.9 141.6 261.4 149.8 256.5"/>
<path class="fib" style="stroke:#b08d92;stroke-width:1.15;" d="M124.2 280.2 C131.7 275.0 141.7 268.1 149.2 263.0"/>
<path class="fib" style="stroke:#b08d92;stroke-width:1.15;" d="M126.5 287.6 C133.1 282.3 142.0 275.1 148.7 269.8"/>
<path class="fib" style="stroke:#b08d92;stroke-width:1.15;" d="M128.7 295.0 C134.4 289.6 142.1 282.5 147.8 277.1"/>
<path class="fib" style="stroke:#b08d92;stroke-width:1.15;" d="M132.2 302.4 C136.2 297.8 141.4 291.8 145.4 287.2"/>
<path class="ol" style="stroke:#333;stroke-width:1.2;" d="M128.0 285.0 C128.7 286.8 130.8 292.3 132.0 296.0 C133.2 299.7 134.5 305.2 135.0 307.0"/>
<path class="ol" style="stroke:#333;stroke-width:1.2;" d="M145.0 285.0 C144.2 287.0 141.7 293.2 140.0 297.0 C138.3 300.8 135.8 306.2 135.0 308.0"/>
<path style="fill:url(#gPiri);stroke:#666;stroke-width:0.9;" d="M150.0 270.0 C150.5 266.1 152.9 256.7 154.0 254.0 C155.1 251.3 155.1 246.1 159.3 246.7 C163.5 247.3 183.5 256.2 190.0 259.0 C196.5 261.8 209.2 268.1 215.0 271.0 C220.8 273.9 234.2 281.0 240.0 284.0 C245.8 287.0 258.9 293.7 265.0 297.0 C271.1 300.3 287.7 309.7 292.0 312.0 C296.3 314.3 302.0 315.9 302.0 317.0 C302.0 318.1 296.3 320.8 292.0 321.0 C287.7 321.2 271.6 319.8 265.0 319.0 C258.4 318.2 241.7 315.2 235.0 314.0 C228.3 312.8 214.4 310.8 208.0 309.0 C201.6 307.2 185.6 301.0 180.0 299.0 C174.4 297.0 163.6 293.3 160.0 292.0 C156.4 290.7 150.7 290.3 149.5 287.7 C148.3 285.1 149.5 273.9 150.0 270.0 Z"/>
<path style="fill:none;stroke:#d8d4a4;stroke-width:8.6;stroke-opacity:0.7;" d="M155.4 260.4 C158.7 262.0 168.2 265.9 175.0 270.0 C181.8 274.1 190.2 280.3 196.0 285.0 C201.8 289.7 206.5 294.2 210.0 298.0 C213.5 301.8 215.8 306.3 217.0 308.0"/>
<path style="fill:none;stroke:#fbfadb;stroke-width:7.4;" d="M155.4 260.4 C158.7 262.0 168.2 265.9 175.0 270.0 C181.8 274.1 190.2 280.3 196.0 285.0 C201.8 289.7 206.5 294.2 210.0 298.0 C213.5 301.8 215.8 306.3 217.0 308.0"/>
<path class="fib" style="stroke:#d6b6ba;stroke-width:1;stroke-opacity:0.85;" d="M152.2 254.8 C164.2 259.6 200.2 274.0 224.1 283.8 C248.1 293.7 284.0 308.9 296.0 313.9"/>
<path class="fib" style="stroke:#d6b6ba;stroke-width:1;stroke-opacity:0.85;" d="M152.5 259.5 C164.5 264.1 200.3 277.9 224.2 287.1 C248.2 296.3 284.0 310.1 296.0 314.8"/>
<path class="fib" style="stroke:#d6b6ba;stroke-width:1;stroke-opacity:0.85;" d="M152.8 264.2 C164.7 268.6 200.5 281.9 224.4 290.4 C248.2 299.0 284.1 311.4 296.0 315.6"/>
<path class="fib" style="stroke:#d6b6ba;stroke-width:1;stroke-opacity:0.85;" d="M153.0 269.0 C164.9 273.1 200.7 285.8 224.5 293.8 C248.3 301.7 284.1 312.7 296.0 316.5"/>
<path class="fib" style="stroke:#d6b6ba;stroke-width:1;stroke-opacity:0.85;" d="M153.2 273.8 C165.1 277.6 200.8 289.8 224.6 297.1 C248.4 304.3 284.1 314.0 296.0 317.4"/>
<path class="fib" style="stroke:#d6b6ba;stroke-width:1;stroke-opacity:0.85;" d="M153.5 278.5 C165.4 282.1 201.0 293.8 224.8 300.4 C248.5 307.0 284.1 315.3 296.0 318.2"/>
<path class="fib" style="stroke:#d6b6ba;stroke-width:1;stroke-opacity:0.85;" d="M153.8 283.2 C165.6 286.7 201.2 297.7 224.9 303.7 C248.6 309.7 284.1 316.6 296.0 319.1"/>
<path class="ol" style="stroke:#555;stroke-width:1;" d="M159.3 246.7 C164.4 248.8 180.7 254.9 190.0 259.0 C199.3 263.1 206.7 266.8 215.0 271.0 C223.3 275.2 231.7 279.7 240.0 284.0 C248.3 288.3 256.3 292.3 265.0 297.0 C273.7 301.7 287.5 309.5 292.0 312.0"/>
<path style="fill:#fbe9ea;" d="M222.0 360.0 C225.0 359.0 243.6 356.9 250.0 356.0 C256.4 355.1 282.3 349.6 286.0 351.5 C289.7 353.4 287.1 370.4 287.0 375.0 C286.9 379.6 287.5 394.4 285.0 397.0 C282.5 399.6 266.5 400.1 262.0 401.0 C257.5 401.9 244.0 404.6 240.0 405.5 C236.0 406.4 225.0 409.1 222.0 409.5 C219.0 409.9 211.2 411.6 210.0 410.0 C208.8 408.4 209.4 397.1 210.0 394.0 C210.6 390.9 215.0 381.4 216.0 378.6 C217.0 375.8 219.4 367.9 220.0 366.0 C220.6 364.1 219.0 361.0 222.0 360.0 Z"/>
<path class="ol" style="stroke:#9a8f90;stroke-width:0.9;" d="M222.0 360.0 C221.7 361.0 221.0 362.9 220.0 366.0 C219.0 369.1 217.3 374.9 216.0 378.6 C214.7 382.3 213.0 385.4 212.0 388.0 C211.0 390.6 210.3 390.3 210.0 394.0 C209.7 397.7 210.0 407.3 210.0 410.0"/>
<path class="ol" style="stroke:#b3a3a5;stroke-width:0.8;" d="M210.0 410.0 C212.0 409.9 217.0 410.2 222.0 409.5 C227.0 408.8 233.3 406.9 240.0 405.5 C246.7 404.1 254.5 402.4 262.0 401.0 C269.5 399.6 281.2 397.7 285.0 397.0"/>
<path class="fib" style="stroke:#cbbcbe;stroke-width:0.9;" d="M219.0 363.5 C224.2 363.0 239.0 361.8 250.0 360.5 C261.0 359.2 279.2 356.8 285.0 356.0"/>
<path class="fib" style="stroke:#cbbcbe;stroke-width:0.9;" d="M218.1 368.5 C223.4 368.0 238.8 366.8 250.0 365.5 C261.1 364.2 279.2 361.8 285.0 361.0"/>
<path class="fib" style="stroke:#cbbcbe;stroke-width:0.9;" d="M217.2 373.5 C222.7 373.0 238.7 371.8 250.0 370.5 C261.3 369.2 279.2 366.8 285.0 366.0"/>
<path class="fib" style="stroke:#cbbcbe;stroke-width:0.9;" d="M216.3 378.5 C221.9 378.0 238.6 376.8 250.0 375.5 C261.4 374.2 279.2 371.8 285.0 371.0"/>
<path class="fib" style="stroke:#cbbcbe;stroke-width:0.9;" d="M215.4 383.5 C221.2 383.0 238.4 381.8 250.0 380.5 C261.6 379.2 279.2 376.8 285.0 376.0"/>
<path class="fib" style="stroke:#cbbcbe;stroke-width:0.9;" d="M214.5 388.5 C220.4 388.0 238.2 386.8 250.0 385.5 C261.8 384.2 279.2 381.8 285.0 381.0"/>
<path class="fib" style="stroke:#cbbcbe;stroke-width:0.9;" d="M213.6 393.5 C219.7 393.0 238.1 391.8 250.0 390.5 C261.9 389.2 279.2 386.8 285.0 386.0"/>
<path class="fib" style="stroke:#cbbcbe;stroke-width:0.9;" d="M212.7 398.5 C218.9 398.0 237.9 396.8 250.0 395.5 C262.1 394.2 279.2 391.8 285.0 391.0"/>
<path class="fib" style="stroke:#cbbcbe;stroke-width:0.9;" d="M211.8 403.5 C218.2 403.0 237.8 401.8 250.0 400.5 C262.2 399.2 279.2 396.8 285.0 396.0"/>
<path style="fill:#f9dadc;stroke:#777;stroke-width:0.9;" d="M167.0 321.0 C166.7 319.0 167.4 314.5 169.0 313.0 C170.6 311.5 177.8 309.2 180.8 308.5 C183.8 307.8 191.0 306.8 195.0 307.0 C199.0 307.2 209.2 308.6 215.0 310.0 C220.8 311.4 236.7 316.9 245.0 319.0 C253.3 321.1 281.2 326.4 286.0 328.0 C290.8 329.6 290.2 332.5 286.0 333.0 C281.8 333.5 257.7 332.2 250.0 332.0 C242.3 331.8 227.0 331.6 220.0 331.5 C213.0 331.4 195.6 331.7 190.0 331.5 C184.4 331.3 174.7 331.2 172.0 330.0 C169.3 328.8 167.3 323.0 167.0 321.0 Z"/>
<path class="fib" style="stroke:#d2b4b8;stroke-width:1;" d="M173.0 316.1 C180.0 316.2 198.5 315.1 215.0 316.8 C231.5 318.5 262.5 324.6 272.0 326.2"/>
<path class="fib" style="stroke:#d2b4b8;stroke-width:1;" d="M174.0 320.2 C180.8 320.4 198.7 319.7 215.0 321.1 C231.3 322.5 262.5 327.2 272.0 328.4"/>
<path class="fib" style="stroke:#d2b4b8;stroke-width:1;" d="M175.0 324.3 C181.7 324.5 198.8 324.3 215.0 325.4 C231.2 326.4 262.5 329.7 272.0 330.6"/>
<path class="fib" style="stroke:#d2b4b8;stroke-width:1;" d="M176.0 328.4 C182.5 328.6 199.0 329.0 215.0 329.7 C231.0 330.4 262.5 332.3 272.0 332.8"/>
<path style="fill:#f9dadc;stroke:#777;stroke-width:0.9;" d="M176.0 346.0 C178.8 345.4 193.1 346.8 200.0 347.0 C206.9 347.2 225.0 347.3 235.0 347.5 C245.0 347.7 280.1 348.4 286.0 349.0 C291.9 349.6 289.0 351.9 286.0 352.5 C283.0 353.1 265.4 353.7 260.0 354.5 C254.6 355.3 244.7 358.2 240.0 359.0 C235.3 359.8 225.2 361.3 220.0 361.5 C214.8 361.7 199.4 361.0 195.0 360.5 C190.6 360.0 184.2 358.0 182.0 357.0 C179.8 356.0 176.7 353.3 176.0 352.0 C175.3 350.7 173.2 346.6 176.0 346.0 Z"/>
<path class="fib" style="stroke:#d2b4b8;stroke-width:1;" d="M180.0 350.0 C186.7 350.2 203.0 351.2 220.0 351.1 C237.0 351.0 271.7 349.7 282.0 349.4"/>
<path class="fib" style="stroke:#d2b4b8;stroke-width:1;" d="M180.0 353.5 C186.7 353.7 203.0 355.1 220.0 354.7 C237.0 354.2 271.7 351.4 282.0 350.8"/>
<path class="fib" style="stroke:#d2b4b8;stroke-width:1;" d="M180.0 357.0 C186.7 357.2 203.0 359.1 220.0 358.3 C237.0 357.5 271.7 353.2 282.0 352.2"/>
<path style="fill:url(#gObt);stroke:#777;stroke-width:0.9;" d="M148.0 326.0 C148.6 325.1 155.8 329.4 158.0 330.0 C160.2 330.6 165.8 331.4 170.0 331.5 C174.2 331.6 193.5 331.1 200.0 331.0 C206.5 330.9 229.0 330.5 235.0 330.0 C241.0 329.5 254.9 326.9 260.0 326.0 C265.1 325.1 283.3 320.6 286.0 321.5 C288.7 322.4 287.0 332.2 287.0 335.0 C287.0 337.8 288.7 348.2 286.0 349.5 C283.3 350.8 265.1 348.2 260.0 348.0 C254.9 347.8 241.0 347.6 235.0 347.5 C229.0 347.4 205.9 347.1 200.0 347.0 C194.1 346.9 179.8 346.8 176.0 346.5 C172.2 346.2 164.4 344.8 162.0 344.0 C159.6 343.2 153.4 340.8 152.0 339.0 C150.6 337.2 147.4 326.9 148.0 326.0 Z"/>
<path class="fib" style="stroke:#a29c9c;stroke-width:0.9;" d="M222.0 333.0 C227.5 332.3 244.3 330.7 255.0 329.0 C265.7 327.3 280.8 324.0 286.0 323.0"/>
<path class="fib" style="stroke:#a29c9c;stroke-width:0.9;" d="M216.0 335.1 C222.5 334.6 243.8 333.4 255.0 332.1 C266.2 330.8 278.3 327.9 283.0 327.1"/>
<path class="fib" style="stroke:#a29c9c;stroke-width:0.9;" d="M222.0 337.2 C227.5 336.9 245.3 336.2 255.0 335.2 C264.7 334.2 275.8 331.9 280.0 331.2"/>
<path class="fib" style="stroke:#a29c9c;stroke-width:0.9;" d="M216.0 339.3 C222.5 339.1 243.3 339.0 255.0 338.3 C266.7 337.6 280.8 335.8 286.0 335.3"/>
<path class="fib" style="stroke:#a29c9c;stroke-width:0.9;" d="M222.0 341.4 C227.5 341.4 244.8 341.7 255.0 341.4 C265.2 341.1 278.3 339.7 283.0 339.4"/>
<path class="fib" style="stroke:#a29c9c;stroke-width:0.9;" d="M216.0 343.5 C222.5 343.7 244.3 344.5 255.0 344.5 C265.7 344.5 275.8 343.7 280.0 343.5"/>
<path class="fib" style="stroke:#a29c9c;stroke-width:0.9;" d="M222.0 345.6 C227.5 345.9 244.3 347.3 255.0 347.6 C265.7 347.9 280.8 347.6 286.0 347.6"/>
<path class="fib" style="stroke:#b9a5a7;stroke-width:0.8;" d="M160.0 334.0 C165.0 334.2 179.7 334.9 190.0 335.0 C200.3 335.1 216.7 334.6 222.0 334.5"/>
<path class="fib" style="stroke:#b9a5a7;stroke-width:0.8;" d="M160.0 337.6 C165.0 337.8 179.7 338.8 190.0 339.0 C200.3 339.2 216.7 338.8 222.0 338.7"/>
<path class="fib" style="stroke:#b9a5a7;stroke-width:0.8;" d="M160.0 341.2 C165.0 341.5 179.7 342.7 190.0 343.0 C200.3 343.3 216.7 342.9 222.0 342.9"/>
<path style="fill:#dcdcd8;stroke:#999;stroke-width:0.6;" d="M165.0 347.0 C165.5 345.7 167.5 348.5 168.5 352.0 C169.5 355.5 170.4 362.8 171.0 368.0 C171.6 373.2 172.4 382.0 172.0 383.0 C171.6 384.0 169.6 377.8 168.5 374.0 C167.4 370.2 166.1 364.5 165.5 360.0 C164.9 355.5 164.5 348.3 165.0 347.0 Z"/>
<path class="ol" style="stroke:#666;" d="M190.0 404.0 C191.2 404.7 195.3 405.7 197.0 408.0 C198.7 410.3 199.7 414.7 200.0 418.0 C200.3 421.3 199.2 426.3 199.0 428.0"/>
<path class="ol" style="stroke:#333;stroke-width:1.3;" d="M197.5 424.5 C199.1 426.2 203.9 431.4 207.0 435.0 C210.1 438.6 214.5 444.2 216.0 446.0"/>
<path class="ol" style="stroke:#666;" d="M230.0 405.0 C230.7 407.5 232.3 414.7 234.0 420.0 C235.7 425.3 239.0 434.2 240.0 437.0"/>
<path class="ol" style="stroke:#666;" d="M262.0 404.0 C261.8 405.7 262.0 411.0 261.0 414.0 C260.0 417.0 258.2 420.0 256.0 422.0 C253.8 424.0 249.3 425.3 248.0 426.0"/>
<path class="ol" style="stroke:#777;" d="M222.0 412.0 C225.0 412.3 233.3 414.7 240.0 414.0 C246.7 413.3 254.7 410.7 262.0 408.0 C269.3 405.3 280.3 399.7 284.0 398.0"/>
<path style="fill:none;stroke:#857c55;stroke-width:10.4;" d="M218.0 306.0 C219.3 308.3 223.7 314.7 226.0 320.0 C228.3 325.3 230.7 332.3 232.0 338.0 C233.3 343.7 234.2 348.0 234.0 354.0 C233.8 360.0 232.3 367.3 231.0 374.0 C229.7 380.7 227.7 386.8 226.0 394.0 C224.3 401.2 222.5 409.7 221.0 417.0 C219.5 424.3 218.0 432.5 217.0 438.0 C216.0 443.5 215.3 448.0 215.0 450.0"/>
<path style="fill:none;stroke:#fcfa9c;stroke-width:8;" d="M218.0 306.0 C219.3 308.3 223.7 314.7 226.0 320.0 C228.3 325.3 230.7 332.3 232.0 338.0 C233.3 343.7 234.2 348.0 234.0 354.0 C233.8 360.0 232.3 367.3 231.0 374.0 C229.7 380.7 227.7 386.8 226.0 394.0 C224.3 401.2 222.5 409.7 221.0 417.0 C219.5 424.3 218.0 432.5 217.0 438.0 C216.0 443.5 215.3 448.0 215.0 450.0"/>
<path class="fib" style="stroke:#c2b3b5;stroke-width:1.6;stroke-opacity:0.8;" d="M305.0 425.0 L311.2 427.2"/>
<path class="fib" style="stroke:#a8a0a1;stroke-width:1.6;stroke-opacity:0.8;" d="M302.6 429.6 L311.2 432.7"/>
<path class="fib" style="stroke:#c2b3b5;stroke-width:1.6;stroke-opacity:0.8;" d="M300.2 434.2 L308.8 438.4"/>
<path class="fib" style="stroke:#a8a0a1;stroke-width:1.6;stroke-opacity:0.8;" d="M297.8 438.8 L304.8 442.8"/>
<path class="fib" style="stroke:#c2b3b5;stroke-width:1.6;stroke-opacity:0.8;" d="M295.4 443.4 L303.1 447.9"/>
<path class="fib" style="stroke:#a8a0a1;stroke-width:1.6;stroke-opacity:0.8;" d="M292.9 447.9 L301.9 452.5"/>
<path class="fib" style="stroke:#c2b3b5;stroke-width:1.6;stroke-opacity:0.8;" d="M290.5 452.5 L300.3 460.8"/>
<path class="fib" style="stroke:#a8a0a1;stroke-width:1.6;stroke-opacity:0.8;" d="M288.1 457.1 L298.5 463.6"/>
<path class="fib" style="stroke:#c2b3b5;stroke-width:1.6;stroke-opacity:0.8;" d="M285.7 461.7 L296.7 472.8"/>
<path class="fib" style="stroke:#a8a0a1;stroke-width:1.6;stroke-opacity:0.8;" d="M283.3 466.3 L296.2 476.4"/>
<path class="fib" style="stroke:#c2b3b5;stroke-width:1.6;stroke-opacity:0.8;" d="M280.9 470.9 L296.8 481.7"/>
<path class="fib" style="stroke:#a8a0a1;stroke-width:1.6;stroke-opacity:0.8;" d="M278.5 475.5 L293.6 488.0"/>
<path class="fib" style="stroke:#c2b3b5;stroke-width:1.6;stroke-opacity:0.8;" d="M276.1 480.1 L289.3 490.7"/>
<path class="fib" style="stroke:#a8a0a1;stroke-width:1.6;stroke-opacity:0.8;" d="M273.6 484.6 L285.3 499.3"/>
<path class="fib" style="stroke:#c2b3b5;stroke-width:1.6;stroke-opacity:0.8;" d="M271.2 489.2 L283.7 503.7"/>
<path class="fib" style="stroke:#a8a0a1;stroke-width:1.6;stroke-opacity:0.8;" d="M268.8 493.8 L283.9 510.3"/>
<path class="fib" style="stroke:#c2b3b5;stroke-width:1.6;stroke-opacity:0.8;" d="M266.4 498.4 L282.7 514.4"/>
<path class="fib" style="stroke:#a8a0a1;stroke-width:1.6;stroke-opacity:0.8;" d="M264.0 503.0 L278.2 518.9"/>
<path style="fill:#ecd8da;stroke:#4a4a4a;stroke-width:1;" d="M298.4 421.5 C300.0 419.9 303.4 422.6 305.0 423.0 C306.6 423.4 311.9 423.9 312.0 424.5 C312.1 425.1 307.3 426.4 306.0 428.0 C304.7 429.6 302.6 434.7 301.0 438.0 C299.4 441.3 294.1 451.8 292.0 456.0 C289.9 460.2 285.2 469.8 283.0 474.0 C280.8 478.2 275.0 488.4 273.0 492.0 C271.0 495.6 267.3 502.9 266.0 505.0 C264.7 507.1 262.3 510.0 261.5 510.0 C260.7 510.0 259.3 506.9 259.5 505.0 C259.7 503.1 261.6 497.4 263.0 494.0 C264.4 490.6 269.3 480.4 271.5 476.0 C273.7 471.6 279.2 460.6 281.5 456.0 C283.8 451.4 289.0 441.0 291.0 437.0 C293.0 433.0 296.8 423.1 298.4 421.5 Z"/>
<path class="fib" style="stroke:#9a8a8c;stroke-width:0.7;" d="M300.0 427.0 L294.5 429.5"/>
<path class="fib" style="stroke:#9a8a8c;stroke-width:0.7;" d="M297.0 433.2 L291.5 435.7"/>
<path class="fib" style="stroke:#9a8a8c;stroke-width:0.7;" d="M294.0 439.3 L288.5 441.8"/>
<path class="fib" style="stroke:#9a8a8c;stroke-width:0.7;" d="M291.0 445.5 L285.5 448.0"/>
<path class="fib" style="stroke:#9a8a8c;stroke-width:0.7;" d="M288.0 451.7 L282.5 454.2"/>
<path class="fib" style="stroke:#9a8a8c;stroke-width:0.7;" d="M285.0 457.8 L279.5 460.3"/>
<path class="fib" style="stroke:#9a8a8c;stroke-width:0.7;" d="M282.0 464.0 L276.5 466.5"/>
<path class="fib" style="stroke:#9a8a8c;stroke-width:0.7;" d="M279.0 470.2 L273.5 472.7"/>
<path class="fib" style="stroke:#9a8a8c;stroke-width:0.7;" d="M276.0 476.3 L270.5 478.8"/>
<path class="fib" style="stroke:#9a8a8c;stroke-width:0.7;" d="M273.0 482.5 L267.5 485.0"/>
<path class="fib" style="stroke:#9a8a8c;stroke-width:0.7;" d="M270.0 488.7 L264.5 491.2"/>
<path class="fib" style="stroke:#9a8a8c;stroke-width:0.7;" d="M267.0 494.8 L261.5 497.3"/>
<path class="fib" style="stroke:#9a8a8c;stroke-width:0.7;" d="M264.0 501.0 L258.5 503.5"/>
<path class="ol" style="stroke:#666;" d="M261.5 510.0 C262.8 511.3 266.1 514.8 269.0 518.0 C271.9 521.2 277.3 527.2 279.0 529.0"/>
</g>

<!-- ================= RIGHT ILLUSTRATION ================= -->
<g id="right" clip-path="url(#clipR)" filter="url(#soft)">
<defs>
<linearGradient id="rPiri" gradientUnits="userSpaceOnUse" x1="700" y1="0" x2="900" y2="0"><stop offset="0" stop-color="#d3d3d3"/><stop offset="0.16" stop-color="#dddada"/><stop offset="0.36" stop-color="#f3dcdd"/><stop offset="1" stop-color="#fbdbdb"/></linearGradient>
<linearGradient id="rGem" gradientUnits="userSpaceOnUse" x1="720" y1="0" x2="880" y2="0"><stop offset="0" stop-color="#e8e6e6"/><stop offset="0.28" stop-color="#ecdfe0"/><stop offset="0.5" stop-color="#f6d9db"/><stop offset="1" stop-color="#f8d7da"/></linearGradient>
<linearGradient id="rObt" gradientUnits="userSpaceOnUse" x1="720" y1="0" x2="880" y2="0"><stop offset="0" stop-color="#e2e0e0"/><stop offset="0.4" stop-color="#ecdcdd"/><stop offset="0.8" stop-color="#f5d6d9"/><stop offset="1" stop-color="#f7d4d7"/></linearGradient>
<linearGradient id="rQF" gradientUnits="userSpaceOnUse" x1="720" y1="0" x2="815" y2="0"><stop offset="0" stop-color="#ffffff"/><stop offset="0.4" stop-color="#fdf2f3"/><stop offset="1" stop-color="#fae3e5"/></linearGradient>
<linearGradient id="rHam" gradientUnits="userSpaceOnUse" x1="0" y1="330" x2="0" y2="524"><stop offset="0" stop-color="#ffffff"/><stop offset="0.22" stop-color="#ffffff"/><stop offset="0.42" stop-color="#fcecec"/><stop offset="0.68" stop-color="#fadfe1"/><stop offset="1" stop-color="#f8d8da"/></linearGradient>
<linearGradient id="rAdd" gradientUnits="userSpaceOnUse" x1="742" y1="0" x2="800" y2="0"><stop offset="0" stop-color="#ffffff"/><stop offset="0.5" stop-color="#fbe3e5"/><stop offset="1" stop-color="#f8d6d9"/></linearGradient>
</defs>
<path class="olb" style="stroke-width:1.5;" d="M695.5 204.6 C694.6 204.7 691.9 204.9 690.0 205.2 C688.1 205.5 686.0 205.9 684.0 206.5 C682.0 207.1 679.8 208.0 678.0 209.0 C676.2 210.0 674.7 211.2 673.0 212.4 C671.3 213.7 669.5 215.1 668.0 216.5 C666.5 217.9 665.3 219.5 664.0 221.0 C662.7 222.5 661.2 223.8 660.0 225.5 C658.8 227.2 657.5 228.8 656.5 231.0 C655.5 233.2 654.5 235.8 653.7 239.0 C652.9 242.2 652.0 246.1 651.5 250.0 C651.0 253.9 650.8 257.8 651.0 262.5 C651.2 267.2 651.8 273.0 652.5 278.0 C653.2 283.0 653.9 288.0 655.0 292.5 C656.1 297.0 657.3 300.4 659.0 305.0 C660.7 309.6 662.8 315.3 665.0 320.0 C667.2 324.7 670.2 328.3 672.5 333.0 C674.8 337.7 676.9 342.7 679.0 348.0 C681.1 353.3 683.3 359.7 685.0 365.0 C686.7 370.3 688.0 375.5 689.0 380.0 C690.0 384.5 690.2 385.3 691.0 392.0 C691.8 398.7 693.2 412.0 694.0 420.0 C694.8 428.0 695.3 432.5 696.0 440.0 C696.7 447.5 697.3 456.7 698.0 465.0 C698.7 473.3 699.5 480.2 700.0 490.0 C700.5 499.8 700.8 515.7 701.0 524.0 C701.2 532.3 701.0 537.3 701.0 540.0"/>
<path class="olb" style="stroke-width:1.4;" d="M695.5 204.5 C696.2 205.2 698.2 207.6 700.0 209.0 C701.8 210.4 703.5 212.0 706.0 213.0 C708.5 214.0 712.2 215.0 715.0 215.0 C717.8 215.0 720.7 214.0 723.0 213.0 C725.3 212.0 727.0 210.5 729.0 209.0 C731.0 207.5 734.0 204.8 735.0 204.0"/>
<path class="olb" style="stroke-width:1.4;" d="M737.5 105.0 C738.4 106.2 741.3 109.5 743.0 112.0 C744.7 114.5 746.7 117.3 747.5 120.0 C748.3 122.7 748.4 125.2 748.0 128.0 C747.6 130.8 746.1 134.0 745.3 137.0 C744.5 140.0 743.4 143.0 743.2 146.0 C743.0 149.0 743.5 152.2 744.0 155.0 C744.5 157.8 745.3 160.2 746.5 163.0 C747.7 165.8 750.5 170.2 751.3 171.6"/>
<path class="olb" style="stroke-width:1.4;" d="M831.0 106.0 C832.5 106.3 837.2 107.2 840.0 108.0 C842.8 108.8 845.3 109.5 848.0 110.5 C850.7 111.5 853.7 112.9 856.0 114.0 C858.3 115.1 861.0 116.5 862.0 117.0"/>
<path class="olb" style="stroke-width:1.3;" d="M838.0 111.0 C836.8 112.0 832.8 114.8 831.0 117.0 C829.2 119.2 827.8 121.7 827.0 124.0 C826.2 126.3 825.7 129.5 826.0 131.0 C826.3 132.5 828.5 132.7 829.0 133.0"/>
<path class="olb" style="stroke-width:1.5;" d="M874.5 106.0 C875.1 107.7 876.4 112.3 878.0 116.0 C879.6 119.7 882.0 123.7 884.0 128.0 C886.0 132.3 888.2 137.3 890.0 142.0 C891.8 146.7 893.7 151.3 895.0 156.0 C896.3 160.7 896.5 165.3 898.0 170.0 C899.5 174.7 901.8 180.7 904.0 184.0 C906.2 187.3 908.7 188.2 911.0 190.0 C913.3 191.8 915.2 193.5 918.0 195.0 C920.8 196.5 924.7 197.7 928.0 199.0 C931.3 200.3 934.8 201.3 938.0 203.0 C941.2 204.7 944.5 207.0 947.0 209.0 C949.5 211.0 951.3 213.2 953.0 215.0 C954.7 216.8 955.7 218.2 957.0 219.5 C958.3 220.8 959.5 222.0 960.7 222.6 C961.9 223.2 963.5 223.1 964.0 223.2"/>
<path class="olb" style="stroke-width:1.4;" d="M975.5 126.0 C975.9 127.3 976.9 131.3 978.0 134.0 C979.1 136.7 981.1 139.3 982.0 142.0 C982.9 144.7 983.7 147.3 983.5 150.0 C983.3 152.7 982.2 155.5 981.0 158.0 C979.8 160.5 977.8 162.5 976.5 165.0 C975.2 167.5 974.1 170.2 973.5 173.0 C972.9 175.8 972.8 179.2 973.0 182.0 C973.2 184.8 974.2 187.5 975.0 190.0 C975.8 192.5 977.5 195.8 978.0 197.0"/>
<path style="fill:#fff;stroke:#222;stroke-width:1.6;" d="M943.0 128.0 C945.0 128.0 947.2 128.0 949.0 129.0 C950.8 130.0 953.1 131.8 954.0 134.0 C954.9 136.2 955.0 139.3 954.5 142.0 C954.0 144.7 952.6 148.2 951.0 150.0 C949.4 151.8 947.2 152.7 945.0 152.5 C942.8 152.3 940.1 150.9 938.0 149.0 C935.9 147.1 933.3 143.7 932.5 141.0 C931.7 138.3 932.2 135.0 933.0 133.0 C933.8 131.0 935.3 129.8 937.0 129.0 C938.7 128.2 941.0 128.0 943.0 128.0 Z"/>
<path style="fill:#fff;stroke:#222;stroke-width:1.4;" d="M940.0 180.5 C940.9 180.3 942.9 180.9 944.0 182.0 C945.1 183.1 946.0 185.4 946.5 187.0 C947.0 188.6 947.3 190.7 947.0 191.5 C946.7 192.3 945.5 192.6 944.5 192.0 C943.5 191.4 942.0 189.5 941.0 188.0 C940.0 186.5 938.7 184.2 938.5 183.0 C938.3 181.8 939.1 180.7 940.0 180.5 Z"/>
<path class="ol" style="stroke:#9a9a9a;stroke-width:1;" d="M890.5 107.5 C890.8 108.8 892.2 112.5 892.5 115.0 C892.7 117.5 892.1 121.2 892.0 122.5"/>
<path class="ol" style="stroke:#9a9a9a;stroke-width:1;" d="M899.0 140.0 C899.6 142.7 901.9 150.8 902.7 156.2 C903.5 161.7 903.8 169.8 904.0 172.5"/>
<path class="ol" style="stroke:#9a9a9a;stroke-width:1;" d="M955.5 120.0 C955.9 123.5 957.5 134.2 958.0 141.2 C958.4 148.3 958.0 159.0 958.0 162.5"/>
<path class="ol" style="stroke:#9a9a9a;stroke-width:1;" d="M951.7 195.0 C952.1 196.2 953.7 200.0 954.1 202.5 C954.4 205.0 954.0 208.8 954.0 210.0"/>
<path style="fill:#f3f4f0;stroke:#2a2a2a;stroke-width:1.4;" d="M976.6 198.6 C977.2 197.9 978.3 197.4 979.0 197.3 C979.7 197.2 981.1 197.4 982.0 197.8 C982.9 198.2 985.0 199.2 986.0 200.0 C987.0 200.8 988.9 202.7 989.6 204.0 C990.3 205.3 990.6 208.3 991.0 210.0 C991.4 211.7 992.0 215.4 992.4 217.0 C992.8 218.6 993.3 220.5 994.0 222.0 C994.7 223.5 997.1 225.6 998.0 228.0 C998.9 230.4 1000.6 235.5 1001.0 240.0 C1001.4 244.5 1001.8 258.7 1001.0 262.0 C1000.2 265.3 996.3 263.8 995.2 264.8 C994.1 265.8 993.3 268.4 992.4 269.4 C991.5 270.4 989.4 271.0 988.7 272.0 C988.0 273.0 987.7 276.3 986.8 277.0 C985.9 277.7 983.1 278.0 982.2 277.5 C981.3 277.0 981.0 273.7 980.3 273.0 C979.6 272.3 977.3 272.7 976.6 272.0 C975.9 271.3 975.6 268.9 974.7 267.6 C973.8 266.3 970.8 263.7 970.0 262.0 C969.2 260.3 969.6 256.2 969.0 254.5 C968.4 252.8 967.1 250.7 965.4 249.0 C963.7 247.3 957.7 242.7 956.0 241.5 C954.3 240.3 953.2 240.4 952.5 240.0 C951.8 239.6 950.8 238.7 950.5 238.2 C950.2 237.7 950.2 236.5 950.3 236.0 C950.4 235.5 951.0 234.9 951.6 234.6 C952.2 234.3 954.1 234.2 955.0 234.0 C955.9 233.8 957.4 234.0 958.0 233.0 C958.6 232.0 959.4 227.9 959.8 226.6 C960.2 225.3 960.0 223.4 960.7 222.9 C961.4 222.4 964.2 223.3 965.4 222.9 C966.6 222.5 969.1 221.5 970.0 220.0 C970.9 218.5 971.4 214.0 972.0 211.7 C972.6 209.4 974.1 204.1 974.7 202.4 C975.3 200.7 976.0 199.3 976.6 198.6 Z"/>
<path style="fill:none;stroke:#e2e4de;stroke-width:4;" d="M978.0 203.0 C977.7 204.5 976.7 208.8 976.0 212.0 C975.3 215.2 974.7 218.7 974.0 222.0 C973.3 225.3 972.2 228.0 972.0 232.0 C971.8 236.0 972.3 241.7 973.0 246.0 C973.7 250.3 975.5 256.0 976.0 258.0"/>
<path style="fill:none;stroke:#e2e4de;stroke-width:3;" d="M988.0 206.0 C988.3 207.7 989.2 212.7 990.0 216.0 C990.8 219.3 992.5 224.3 993.0 226.0"/>
<path class="ol" style="stroke:#a8a8a8;stroke-width:1.2;" d="M970.0 235.0 C971.7 235.2 976.3 236.3 980.0 236.5 C983.7 236.7 990.0 236.1 992.0 236.0"/>
<path class="ol" style="stroke:#bdbdbd;stroke-width:1;" d="M972.0 240.0 C973.5 240.2 978.0 241.3 981.0 241.5 C984.0 241.7 988.5 241.1 990.0 241.0"/>
<path class="ol" style="stroke:#a8a8a8;stroke-width:1.2;" d="M972.0 255.5 C973.7 255.8 978.3 256.8 982.0 257.0 C985.7 257.2 992.0 256.6 994.0 256.5"/>
<path class="ol" style="stroke:#b5b5b5;stroke-width:1;" d="M980.0 267.0 C980.7 267.2 982.8 267.9 984.0 268.0 C985.2 268.1 986.5 267.6 987.0 267.5"/>
<path class="olb" style="stroke-width:1.4;" d="M968.5 261.0 C967.1 263.3 963.0 270.2 960.0 275.0 C957.0 279.8 953.3 285.7 950.5 290.0 C947.7 294.3 946.4 296.3 943.0 301.0 C939.6 305.7 934.2 312.8 930.0 318.0 C925.8 323.2 921.7 328.3 918.0 332.5 C914.3 336.7 910.8 340.1 908.0 343.0 C905.2 345.9 902.6 348.8 901.5 350.0"/>
<path style="fill:url(#rAdd);" d="M742.0 355.0 L815.0 353.0 L800.0 375.0 L787.0 398.0 L770.0 435.0 L757.0 472.0 L752.0 500.0 L744.0 545.0 L742.0 545.0 Z"/>
<path class="fib" style="stroke:#dcb8bc;stroke-width:0.9;" d="M757.0 364.0 C760.0 364.3 768.7 365.8 775.0 366.0 C781.3 366.2 789.8 365.8 795.0 365.5 C800.2 365.2 804.2 364.2 806.0 364.0"/>
<path class="fib" style="stroke:#dcb8bc;stroke-width:0.9;" d="M757.0 392.5 C759.2 392.4 765.7 392.3 770.0 392.0 C774.3 391.7 780.8 390.8 783.0 390.5"/>
<path class="fib" style="stroke:#dcb8bc;stroke-width:0.9;" d="M760.0 418.0 C761.3 418.2 765.7 419.0 768.0 419.0 C770.3 419.0 773.0 418.2 774.0 418.0"/>
<path style="fill:url(#rHam);" d="M893.0 212.0 C899.5 206.8 939.5 204.9 943.0 207.5 C946.5 210.1 931.5 229.8 928.0 237.5 C924.5 245.2 911.0 276.0 908.0 285.0 C905.0 294.0 898.7 321.0 898.0 327.5 C897.3 334.0 900.8 345.2 901.0 350.0 C901.2 354.8 900.8 369.5 900.5 375.0 C900.2 380.5 898.0 400.5 898.0 405.0 C898.0 409.5 899.8 415.3 900.5 420.0 C901.2 424.7 904.6 445.0 905.5 452.0 C906.4 459.0 908.6 482.8 909.0 490.0 C909.4 497.2 909.5 518.5 909.5 524.0 C909.5 529.5 926.5 542.9 909.5 545.0 C892.5 547.1 756.5 547.1 740.0 545.0 C723.5 542.9 743.6 528.5 745.0 524.0 C746.4 519.5 752.5 505.2 753.7 500.0 C755.0 494.8 755.9 478.5 757.5 472.0 C759.1 465.5 767.0 442.5 770.0 435.0 C773.0 427.5 784.2 403.5 787.5 397.0 C790.8 390.5 799.8 373.9 802.5 370.0 C805.2 366.1 812.2 360.4 815.0 357.5 C817.8 354.6 826.8 344.8 830.0 341.0 C833.2 337.2 844.2 324.9 847.5 320.0 C850.8 315.1 860.0 298.5 863.0 292.5 C866.0 286.5 875.0 268.1 878.0 260.0 C881.0 251.9 886.5 217.2 893.0 212.0 Z"/>
<path class="olb" style="stroke-width:1.3;" d="M903.0 187.5 C902.2 189.6 899.7 195.8 898.0 200.0 C896.3 204.2 895.0 206.5 893.0 212.5 C891.0 218.5 888.5 228.1 886.0 236.0 C883.5 243.9 880.5 253.2 878.0 260.0 C875.5 266.8 873.5 271.6 871.0 277.0 C868.5 282.4 865.8 287.2 863.0 292.5 C860.2 297.8 856.6 304.4 854.0 309.0 C851.4 313.6 850.0 316.3 847.5 320.0 C845.0 323.7 841.9 327.5 839.0 331.0 C836.1 334.5 831.5 339.3 830.0 341.0"/>
<path class="olb" style="stroke-width:1.3;" d="M943.0 207.5 C941.8 209.9 938.5 217.0 936.0 222.0 C933.5 227.0 931.0 231.0 928.0 237.5 C925.0 244.0 921.3 253.1 918.0 261.0 C914.7 268.9 910.7 277.5 908.0 285.0 C905.3 292.5 903.6 298.9 902.0 306.0 C900.4 313.1 899.0 321.8 898.5 327.5 C898.0 333.2 898.5 336.2 899.0 340.0 C899.5 343.8 901.1 348.3 901.5 350.0"/>
<path class="fibw" style="stroke:#cfcfcf;stroke-width:0.9;" d="M908.7 190.4 C904.6 202.2 895.1 237.3 884.3 261.6 C873.5 285.9 850.6 323.7 843.9 336.1"/>
<path class="fibw" style="stroke:#cfcfcf;stroke-width:0.9;" d="M914.4 193.2 C910.1 205.2 898.9 241.1 888.6 265.1 C878.3 289.2 858.7 325.3 852.7 337.3"/>
<path class="fibw" style="stroke:#cfcfcf;stroke-width:0.9;" d="M920.1 196.1 C915.6 208.2 902.6 245.0 892.9 268.7 C883.1 292.4 866.8 326.8 861.6 338.4"/>
<path class="fibw" style="stroke:#cfcfcf;stroke-width:0.9;" d="M925.9 198.9 C921.1 211.2 906.4 248.8 897.1 272.3 C887.9 295.7 874.9 328.4 870.4 339.6"/>
<path class="fibw" style="stroke:#cfcfcf;stroke-width:0.9;" d="M931.6 201.8 C926.5 214.1 910.1 252.7 901.4 275.9 C892.7 299.0 883.0 329.9 879.3 340.7"/>
<path class="fibw" style="stroke:#cfcfcf;stroke-width:0.9;" d="M937.3 204.6 C932.0 217.1 913.9 256.6 905.7 279.4 C897.5 302.3 891.1 331.5 888.1 341.9"/>
<path class="fibw" style="stroke:#e0dadb;stroke-width:1;" d="M849.7 337.2 C841.9 353.3 819.6 401.5 802.5 433.6 C785.4 465.7 756.4 513.9 747.2 530.0"/>
<path class="fibw" style="stroke:#d3cbcc;stroke-width:1;" d="M847.4 343.9 C840.6 359.4 821.2 405.9 806.1 436.9 C791.0 468.0 765.1 514.5 756.9 530.0"/>
<path class="fibw" style="stroke:#e0dadb;stroke-width:1;" d="M845.6 350.7 C839.7 365.7 823.1 410.5 809.9 440.4 C796.6 470.2 773.5 515.1 766.2 530.0"/>
<path class="fibw" style="stroke:#d3cbcc;stroke-width:1;" d="M852.1 338.3 C846.3 354.3 830.4 402.2 817.6 434.1 C804.8 466.1 782.3 514.0 775.2 530.0"/>
<path class="fibw" style="stroke:#e0dadb;stroke-width:1;" d="M850.5 345.2 C845.6 360.6 832.3 406.8 821.2 437.6 C810.1 468.4 790.2 514.6 784.0 530.0"/>
<path class="fibw" style="stroke:#d3cbcc;stroke-width:1;" d="M849.4 352.2 C845.3 367.0 834.4 411.5 825.0 441.1 C815.5 470.7 797.9 515.2 792.5 530.0"/>
<path class="fibw" style="stroke:#e0dadb;stroke-width:1;" d="M854.5 339.1 C850.7 355.0 840.6 402.7 831.7 434.6 C822.7 466.4 806.0 514.1 800.8 530.0"/>
<path class="fibw" style="stroke:#d3cbcc;stroke-width:1;" d="M853.7 346.1 C850.6 361.4 842.8 407.4 835.4 438.1 C827.9 468.7 813.4 514.7 809.0 530.0"/>
<path class="fibw" style="stroke:#e0dadb;stroke-width:1;" d="M853.4 353.2 C851.0 368.0 845.3 412.1 839.2 441.6 C833.2 471.1 820.8 515.3 817.1 530.0"/>
<path class="fibw" style="stroke:#d3cbcc;stroke-width:1;" d="M857.0 339.7 C855.0 355.5 850.3 403.1 845.0 434.8 C839.7 466.6 828.3 514.1 825.0 530.0"/>
<path class="fibw" style="stroke:#e0dadb;stroke-width:1;" d="M857.0 346.7 C855.6 362.0 852.9 407.8 848.9 438.4 C844.9 468.9 835.5 514.7 832.8 530.0"/>
<path class="fibw" style="stroke:#d3cbcc;stroke-width:1;" d="M857.4 353.8 C856.7 368.5 855.8 412.6 853.0 441.9 C850.2 471.3 842.6 515.3 840.6 530.0"/>
<path class="fibw" style="stroke:#e0dadb;stroke-width:1;" d="M859.6 340.0 C859.3 355.8 859.8 403.3 857.9 435.0 C856.0 466.7 849.9 514.2 848.3 530.0"/>
<path class="fibw" style="stroke:#d3cbcc;stroke-width:1;" d="M860.3 347.0 C860.6 362.2 862.8 408.0 862.1 438.5 C861.4 469.0 857.0 514.7 856.0 530.0"/>
<path class="fibw" style="stroke:#e0dadb;stroke-width:1;" d="M861.5 354.0 C861.3 368.7 860.2 412.7 860.5 442.0 C860.9 471.3 863.1 515.3 863.6 530.0"/>
<path class="fibw" style="stroke:#d3cbcc;stroke-width:1;" d="M862.2 340.0 C862.6 355.8 863.2 403.3 864.7 435.0 C866.2 466.7 870.2 514.2 871.3 530.0"/>
<path class="fibw" style="stroke:#e0dadb;stroke-width:1;" d="M863.6 346.9 C864.5 362.2 866.7 407.9 869.3 438.4 C871.8 469.0 877.4 514.7 879.0 530.0"/>
<path class="fibw" style="stroke:#d3cbcc;stroke-width:1;" d="M866.7 363.7 C868.1 377.5 871.4 419.1 874.7 446.8 C878.0 474.6 884.7 516.1 886.7 530.0"/>
<path class="fibw" style="stroke:#e0dadb;stroke-width:1;" d="M866.3 349.6 C868.3 364.6 873.7 409.7 878.4 439.8 C883.1 469.9 891.8 515.0 894.5 530.0"/>
<path class="fibw" style="stroke:#d3cbcc;stroke-width:1;" d="M868.8 356.3 C871.3 370.7 878.0 414.2 883.6 443.1 C889.2 472.1 899.3 515.5 902.4 530.0"/>
<path class="fibw" style="stroke:#e0dadb;stroke-width:1;" d="M871.8 362.8 C874.7 376.7 882.7 418.5 889.1 446.4 C895.5 474.3 906.9 516.1 910.4 530.0"/>
<path class="olb" style="stroke-width:1.4;" d="M830.0 341.0 C828.7 342.5 824.5 347.2 822.0 350.0 C819.5 352.8 817.3 355.2 815.0 357.5 C812.7 359.8 810.1 361.9 808.0 364.0 C805.9 366.1 804.7 367.3 802.5 370.0 C800.3 372.7 797.5 375.5 795.0 380.0 C792.5 384.5 790.3 391.0 787.5 397.0 C784.7 403.0 780.9 409.7 778.0 416.0 C775.1 422.3 772.5 428.7 770.0 435.0 C767.5 441.3 765.1 447.8 763.0 454.0 C760.9 460.2 758.8 466.5 757.5 472.0 C756.2 477.5 755.6 482.2 755.0 487.0 C754.4 491.8 753.9 498.7 753.7 501.0"/>
<path class="olb" style="stroke-width:1.4;" d="M857.5 355.0 C857.1 357.2 855.8 363.4 855.0 368.0 C854.2 372.6 853.3 377.2 852.5 382.5 C851.7 387.8 850.8 394.6 850.0 400.0 C849.2 405.4 848.7 408.7 847.5 415.0 C846.3 421.3 844.7 430.5 843.0 438.0 C841.3 445.5 839.5 453.0 837.5 460.0 C835.5 467.0 833.1 474.2 831.0 480.0 C828.9 485.8 826.8 490.8 825.0 495.0 C823.2 499.2 821.2 503.3 820.5 505.0"/>
<path class="olb" style="stroke-width:1.4;" d="M901.5 350.0 C901.3 354.2 901.1 365.8 900.5 375.0 C899.9 384.2 898.0 397.5 898.0 405.0 C898.0 412.5 899.2 412.2 900.5 420.0 C901.8 427.8 904.1 440.3 905.5 452.0 C906.9 463.7 908.3 477.7 909.0 490.0 C909.7 502.3 909.4 520.0 909.5 526.0"/>
<path class="olb" style="stroke-width:1.2;" d="M899.0 405.0 C899.0 410.0 899.2 425.0 899.0 435.0 C898.8 445.0 898.5 455.0 898.0 465.0 C897.5 475.0 896.8 484.8 896.0 495.0 C895.2 505.2 893.5 520.8 893.0 526.0"/>
<path style="fill:#f3d3d6;" d="M901.3 352.0 C901.9 351.7 904.0 359.7 904.3 364.0 C904.6 368.3 903.6 377.7 903.0 378.0 C902.4 378.3 901.1 370.3 900.8 366.0 C900.5 361.7 900.7 352.3 901.3 352.0 Z"/>
<path style="fill:#f6d0d3;stroke:#444;stroke-width:1;" d="M928.0 238.0 C928.5 239.5 930.6 243.8 931.0 247.0 C931.4 250.2 931.3 253.5 930.5 257.0 C929.7 260.5 928.1 264.7 926.0 268.0 C923.9 271.3 920.7 274.5 918.0 277.0 C915.3 279.5 911.3 282.0 910.0 283.0"/>
<path style="fill:#e2e3df;stroke:#b5b5b5;stroke-width:0.6;" d="M866.0 243.0 C866.8 241.7 868.0 242.8 869.0 246.0 C870.0 249.2 871.2 257.7 872.0 262.0 C872.8 266.3 874.2 268.2 874.0 272.0 C873.8 275.8 872.3 285.3 871.0 285.0 C869.7 284.7 867.1 275.2 866.0 270.0 C864.9 264.8 864.5 258.5 864.5 254.0 C864.5 249.5 865.2 244.3 866.0 243.0 Z"/>
<path style="fill:#f7d4d7;stroke:#333;stroke-width:1.2;" d="M852.0 221.0 C854.0 219.2 867.7 217.5 872.0 216.5 C876.3 215.5 893.2 210.1 895.0 211.0 C896.8 211.9 891.2 222.6 890.0 226.0 C888.8 229.4 884.4 241.1 883.0 245.0 C881.6 248.9 876.5 264.1 876.0 265.0 C875.5 265.9 877.6 256.0 877.5 254.0 C877.4 252.0 876.2 246.8 875.0 245.0 C873.8 243.2 867.3 237.1 865.0 236.0 C862.7 234.9 853.3 235.5 852.0 234.0 C850.7 232.5 850.0 222.8 852.0 221.0 Z"/>
<path class="fib" style="stroke:#d8a8ad;stroke-width:0.7;" d="M856.0 224.0 C858.3 223.7 864.9 222.6 870.0 222.0 C875.1 221.4 883.9 220.9 886.7 220.7"/>
<path class="fib" style="stroke:#d8a8ad;stroke-width:0.7;" d="M856.0 226.0 C858.3 225.8 865.1 224.8 870.0 225.0 C874.9 225.2 882.8 226.9 885.3 227.3"/>
<path class="fib" style="stroke:#d8a8ad;stroke-width:0.7;" d="M856.0 228.0 C858.3 228.0 865.3 227.0 870.0 228.0 C874.7 229.0 881.7 233.0 884.0 234.0"/>
<path class="fib" style="stroke:#d8a8ad;stroke-width:0.7;" d="M856.0 230.0 C858.3 230.2 865.6 229.2 870.0 231.0 C874.4 232.8 880.6 239.1 882.7 240.7"/>
<path class="fib" style="stroke:#d8a8ad;stroke-width:0.7;" d="M856.0 232.0 C858.3 232.3 865.8 231.4 870.0 234.0 C874.2 236.6 879.4 245.1 881.3 247.3"/>
<path style="fill:url(#rQF);" d="M720.0 240.0 C724.3 237.6 757.0 244.8 765.0 246.0 C773.0 247.2 796.0 250.8 800.0 252.0 C804.0 253.2 804.6 255.9 805.0 257.5 C805.4 259.1 803.2 265.5 803.7 267.5 C804.2 269.5 809.2 275.2 810.0 277.5 C810.8 279.8 811.8 287.8 812.0 290.0 C812.2 292.2 812.2 297.2 812.5 300.0 C812.8 302.8 817.2 315.9 815.0 317.5 C812.8 319.1 795.0 316.5 790.0 316.0 C785.0 315.5 769.5 313.3 765.0 312.5 C760.5 311.7 749.0 309.0 745.0 308.0 C741.0 307.0 727.3 306.3 725.0 302.5 C722.7 298.7 722.5 276.2 722.0 270.0 C721.5 263.8 715.7 242.4 720.0 240.0 Z"/>
<path class="fib" style="stroke:#d9c8cb;stroke-width:1.4;" d="M722.0 248.0 C728.3 248.8 746.0 251.2 760.0 253.0 C774.0 254.8 798.3 258.0 806.0 259.0"/>
<path class="fib" style="stroke:#d9c8cb;stroke-width:1.4;" d="M722.0 255.4 C728.3 256.2 746.0 258.6 760.0 260.4 C774.0 262.2 798.3 265.4 806.0 266.4"/>
<path class="fib" style="stroke:#d9c8cb;stroke-width:1.4;" d="M722.0 262.8 C728.3 263.6 746.0 266.0 760.0 267.8 C774.0 269.6 798.3 272.8 806.0 273.8"/>
<path class="fib" style="stroke:#d9c8cb;stroke-width:1.4;" d="M722.0 270.2 C728.3 271.0 746.0 273.4 760.0 275.2 C774.0 277.0 798.3 280.2 806.0 281.2"/>
<path class="fib" style="stroke:#d9c8cb;stroke-width:1.4;" d="M722.0 277.6 C728.3 278.4 745.3 280.8 760.0 282.6 C774.7 284.4 801.7 287.6 810.0 288.6"/>
<path class="fib" style="stroke:#d9c8cb;stroke-width:1.4;" d="M722.0 285.0 C728.3 285.8 745.3 288.2 760.0 290.0 C774.7 291.8 801.7 295.0 810.0 296.0"/>
<path class="fib" style="stroke:#d9c8cb;stroke-width:1.4;" d="M722.0 292.4 C728.3 293.2 745.3 295.6 760.0 297.4 C774.7 299.2 801.7 302.4 810.0 303.4"/>
<path class="fib" style="stroke:#d9c8cb;stroke-width:1.4;" d="M722.0 299.8 C728.3 300.6 745.3 303.0 760.0 304.8 C774.7 306.6 801.7 309.8 810.0 310.8"/>
<path class="ol" style="stroke:#666;stroke-width:1;" d="M805.0 257.5 C804.8 259.2 802.9 264.2 803.7 267.5 C804.5 270.8 808.6 273.8 810.0 277.5 C811.4 281.2 811.6 286.2 812.0 290.0 C812.4 293.8 812.0 295.4 812.5 300.0 C813.0 304.6 814.6 314.6 815.0 317.5"/>
<path class="olb" style="stroke-width:1.2;stroke:#444;" d="M723.7 302.5 C727.2 303.4 738.1 306.3 745.0 308.0 C751.9 309.7 758.3 311.2 765.0 312.5 C771.7 313.8 779.2 315.1 785.0 316.0 C790.8 316.9 795.0 317.6 800.0 318.0 C805.0 318.4 812.5 318.4 815.0 318.5"/>
<path style="fill:url(#rGem);stroke:#333;stroke-width:1.2;" d="M720.0 233.0 C724.0 232.4 752.0 233.9 760.0 234.0 C768.0 234.1 790.8 234.0 800.0 234.0 C809.2 234.0 846.1 233.3 852.0 233.7 C857.9 234.1 858.1 237.1 859.0 238.0 C859.9 238.9 861.1 241.8 861.0 243.0 C860.9 244.2 858.6 248.8 857.5 250.0 C856.4 251.2 851.5 253.9 850.0 254.5 C848.5 255.1 846.5 256.1 843.0 256.0 C839.5 255.9 820.3 254.3 815.0 253.7 C809.7 253.1 795.0 250.7 790.0 250.0 C785.0 249.3 770.0 247.7 765.0 247.0 C760.0 246.3 744.5 243.7 740.0 243.0 C735.5 242.3 722.0 241.0 720.0 240.0 C718.0 239.0 716.0 233.6 720.0 233.0 Z"/>
<path class="fib" style="stroke:#e0bfc3;stroke-width:1;" d="M735.0 236.2 C744.2 236.8 771.2 238.7 790.0 239.6 C808.8 240.5 838.3 241.3 848.0 241.6"/>
<path class="fib" style="stroke:#e0bfc3;stroke-width:1;" d="M735.0 238.4 C744.2 239.2 771.2 241.9 790.0 243.2 C808.8 244.5 838.3 245.7 848.0 246.2"/>
<path class="fib" style="stroke:#e0bfc3;stroke-width:1;" d="M735.0 240.6 C744.2 241.6 771.2 245.1 790.0 246.8 C808.8 248.5 838.3 250.1 848.0 250.8"/>
<path style="fill:url(#rGem);stroke:#333;stroke-width:1.2;" d="M722.0 218.7 C720.6 218.1 723.7 215.3 726.0 214.0 C728.3 212.7 740.6 207.5 745.0 206.0 C749.4 204.5 763.0 200.5 770.0 199.0 C777.0 197.5 807.2 191.8 815.0 191.0 C822.8 190.2 843.0 190.3 847.5 191.0 C852.0 191.7 858.0 195.8 860.0 197.5 C862.0 199.2 866.4 205.8 867.5 207.5 C868.6 209.2 871.2 213.9 871.0 215.0 C870.8 216.1 868.1 218.2 865.0 218.7 C861.9 219.2 845.0 219.8 840.0 220.0 C835.0 220.2 822.5 220.4 815.0 220.5 C807.5 220.6 772.5 220.6 765.0 220.5 C757.5 220.4 744.3 220.2 740.0 220.0 C735.7 219.8 723.4 219.3 722.0 218.7 Z"/>
<path class="fib" style="stroke:#e0bfc3;stroke-width:1;" d="M745.0 210.4 C754.2 208.8 781.2 202.3 800.0 201.0 C818.8 199.7 848.3 202.1 858.0 202.3"/>
<path class="fib" style="stroke:#e0bfc3;stroke-width:1;" d="M745.0 212.8 C754.2 211.7 781.2 207.0 800.0 206.0 C818.8 205.0 848.3 206.5 858.0 206.6"/>
<path class="fib" style="stroke:#e0bfc3;stroke-width:1;" d="M745.0 215.2 C754.2 214.5 781.2 211.7 800.0 211.0 C818.8 210.3 848.3 210.9 858.0 210.9"/>
<path class="fib" style="stroke:#e0bfc3;stroke-width:1;" d="M745.0 217.6 C754.2 217.3 781.2 216.4 800.0 216.0 C818.8 215.6 848.3 215.3 858.0 215.2"/>
<path style="fill:url(#rObt);" d="M720.0 225.0 C724.7 224.5 781.2 224.0 790.0 223.7 C798.8 223.4 847.0 221.5 852.5 221.0 C858.0 220.5 870.7 215.8 872.0 216.5 C873.3 217.2 873.3 230.9 872.0 232.0 C870.7 233.1 858.0 233.6 852.5 233.7 C847.0 233.8 798.8 233.4 790.0 233.2 C781.2 233.0 724.7 231.5 720.0 231.0 C715.3 230.5 715.3 225.5 720.0 225.0 Z"/>
<path class="olb" style="stroke-width:1.3;" d="M720.0 225.0 C731.7 224.8 767.9 224.4 790.0 223.7 C812.1 223.0 838.8 222.2 852.5 221.0 C866.2 219.8 868.8 217.2 872.0 216.5"/>
<path class="olb" style="stroke-width:1.3;" d="M720.0 231.0 C731.7 231.4 767.9 232.8 790.0 233.2 C812.1 233.6 842.1 233.6 852.5 233.7"/>
<path class="fib" style="stroke:#b9a9aa;stroke-width:0.7;" d="M722.0 228.0 C733.3 228.1 768.7 228.6 790.0 228.5 C811.3 228.4 840.0 227.7 850.0 227.5"/>
<path style="fill:none;stroke:#7d734b;stroke-width:12.8;" d="M803.0 192.0 C802.0 193.7 798.8 198.2 797.0 202.0 C795.2 205.8 793.9 210.7 792.5 215.0 C791.1 219.3 789.6 223.4 788.5 228.0 C787.4 232.6 786.4 238.0 786.0 242.5 C785.6 247.0 785.8 251.1 786.0 255.0 C786.2 258.9 786.8 262.3 787.5 266.0 C788.2 269.7 789.1 273.2 790.0 277.0 C790.9 280.8 791.8 284.5 793.0 289.0 C794.2 293.5 796.2 299.2 797.5 304.0 C798.8 308.8 799.8 313.3 801.0 318.0 C802.2 322.7 803.4 327.2 804.5 332.0 C805.6 336.8 806.7 342.3 807.5 347.0 C808.3 351.7 809.2 357.8 809.5 360.0"/>
<path style="fill:none;stroke:#fcfa9c;stroke-width:9.6;" d="M803.0 192.0 C802.0 193.7 798.8 198.2 797.0 202.0 C795.2 205.8 793.9 210.7 792.5 215.0 C791.1 219.3 789.6 223.4 788.5 228.0 C787.4 232.6 786.4 238.0 786.0 242.5 C785.6 247.0 785.8 251.1 786.0 255.0 C786.2 258.9 786.8 262.3 787.5 266.0 C788.2 269.7 789.1 273.2 790.0 277.0 C790.9 280.8 791.8 284.5 793.0 289.0 C794.2 293.5 796.2 299.2 797.5 304.0 C798.8 308.8 799.8 313.3 801.0 318.0 C802.2 322.7 803.4 327.2 804.5 332.0 C805.6 336.8 806.7 342.3 807.5 347.0 C808.3 351.7 809.2 357.8 809.5 360.0"/>
<path class="ol" style="stroke:#888;stroke-width:1;" d="M750.0 310.0 C750.5 311.8 751.8 317.7 753.0 321.0 C754.2 324.3 756.0 327.5 757.5 330.0 C759.0 332.5 760.3 334.6 762.0 336.0 C763.7 337.4 766.6 338.2 767.5 338.7"/>
<path class="olb" style="stroke-width:1.3;" d="M787.5 320.0 C786.8 322.3 784.9 328.4 783.0 334.0 C781.1 339.6 777.2 350.4 776.0 353.7"/>
<path class="olb" style="stroke-width:1.4;" d="M748.7 351.0 C750.9 351.5 757.5 353.2 762.0 354.0 C766.5 354.8 771.3 355.2 776.0 355.5 C780.7 355.8 786.0 356.1 790.0 356.0 C794.0 355.9 797.0 355.8 800.0 355.0 C803.0 354.2 805.5 352.8 808.0 351.5 C810.5 350.2 812.5 348.9 815.0 347.5 C817.5 346.1 820.5 344.2 823.0 343.0 C825.5 341.8 828.8 340.5 830.0 340.0"/>
<path class="olb" style="stroke-width:1.3;" d="M817.5 320.0 C818.1 321.5 819.8 326.1 821.0 329.0 C822.2 331.9 823.5 335.5 825.0 337.5 C826.5 339.5 829.2 340.4 830.0 341.0"/>
<path class="ol" style="stroke:#888;stroke-width:1;" d="M831.0 312.5 C831.5 314.1 832.9 319.1 834.0 322.0 C835.1 324.9 836.9 328.7 837.5 330.0"/>
<path style="fill:#f6d3d6;" d="M812.0 349.0 L829.0 339.5 L831.0 342.5 L815.0 352.5 Z"/>
<path style="fill:none;stroke:#d6d2b2;stroke-width:11.4;stroke-opacity:0.8;" d="M809.5 360.0 C809.8 362.5 810.9 369.2 811.5 375.0 C812.1 380.8 812.5 387.5 813.0 395.0 C813.5 402.5 814.1 410.8 814.5 420.0 C814.9 429.2 815.2 440.0 815.5 450.0 C815.8 460.0 815.9 470.7 816.0 480.0 C816.1 489.3 816.0 501.7 816.0 506.0"/>
<path style="fill:none;stroke:#faf8d2;stroke-width:9.8;" d="M809.5 360.0 C809.8 362.5 810.9 369.2 811.5 375.0 C812.1 380.8 812.5 387.5 813.0 395.0 C813.5 402.5 814.1 410.8 814.5 420.0 C814.9 429.2 815.2 440.0 815.5 450.0 C815.8 460.0 815.9 470.7 816.0 480.0 C816.1 489.3 816.0 501.7 816.0 506.0"/>
<path class="fibw" style="stroke:#cfcaa8;stroke-width:0.8;" d="M810.0 370.0 C811.3 375.0 816.3 388.3 818.0 400.0 C819.7 411.7 819.7 433.3 820.0 440.0"/>
<path class="fibw" style="stroke:#cfcaa8;stroke-width:0.8;" d="M819.0 380.0 C817.8 386.7 813.0 405.0 812.0 420.0 C811.0 435.0 812.8 461.7 813.0 470.0"/>
<path style="fill:none;stroke:#6f6c3c;stroke-width:12.4;" d="M816.2 503.0 L816.2 530.0"/>
<path style="fill:none;stroke:#fcfa9c;stroke-width:10;" d="M816.2 503.0 L816.2 530.0"/>
<path d="M754.2 501 Q786 488.2 821 505.8 Q791 520 754.2 501 Z" fill="#f4bac7" stroke="#222" stroke-width="1.4" stroke-linejoin="round"/>
<path class="fib" style="stroke:#e3c0c4;stroke-width:0.8;" d="M760.0 512.0 L742.0 524.0"/>
<path class="fib" style="stroke:#e3c0c4;stroke-width:0.8;" d="M775.0 513.0 L765.0 524.0"/>
<path class="fib" style="stroke:#e3c0c4;stroke-width:0.8;" d="M790.0 513.0 L800.0 524.0"/>
<path class="fib" style="stroke:#e3c0c4;stroke-width:0.8;" d="M770.0 511.0 L750.0 520.0"/>
<path style="fill:url(#rPiri);" d="M695.5 204.5 L872.5 113.0 L876.0 115.0 L880.0 122.0 L885.5 132.5 L890.0 141.0 L893.0 150.0 L896.0 160.0 L898.0 170.0 L875.0 176.0 L852.5 182.5 L802.5 192.5 L765.0 198.7 L727.5 203.7 L707.5 205.2 Z"/>
<path style="fill:none;stroke:#d9d5ad;stroke-width:11;stroke-opacity:0.7;" d="M885.0 129.5 C883.3 129.9 878.3 131.0 875.0 132.0 C871.7 133.0 868.8 133.8 865.0 135.5 C861.2 137.2 856.2 139.6 852.0 142.0 C847.8 144.4 843.8 147.0 840.0 150.0 C836.2 153.0 832.3 156.7 829.0 160.0 C825.7 163.3 822.8 166.7 820.0 170.0 C817.2 173.3 814.8 176.7 812.5 180.0 C810.2 183.3 807.6 187.5 806.0 190.0 C804.4 192.5 803.5 194.2 803.0 195.0"/>
<path style="fill:none;stroke:#fbfbdc;stroke-width:9.4;" d="M885.0 129.5 C883.3 129.9 878.3 131.0 875.0 132.0 C871.7 133.0 868.8 133.8 865.0 135.5 C861.2 137.2 856.2 139.6 852.0 142.0 C847.8 144.4 843.8 147.0 840.0 150.0 C836.2 153.0 832.3 156.7 829.0 160.0 C825.7 163.3 822.8 166.7 820.0 170.0 C817.2 173.3 814.8 176.7 812.5 180.0 C810.2 183.3 807.6 187.5 806.0 190.0 C804.4 192.5 803.5 194.2 803.0 195.0"/>
<path class="fib" style="stroke:#e6bfc3;stroke-width:0.8;stroke-opacity:0.9;" d="M714.7 203.3 L876.2 119.1"/>
<path class="fib" style="stroke:#e6bfc3;stroke-width:0.8;stroke-opacity:0.9;" d="M717.5 203.1 L878.4 124.2"/>
<path class="fib" style="stroke:#e6bfc3;stroke-width:0.8;stroke-opacity:0.9;" d="M720.2 203.0 L880.5 129.3"/>
<path class="fib" style="stroke:#e6bfc3;stroke-width:0.8;stroke-opacity:0.9;" d="M722.9 202.8 L882.7 134.4"/>
<path class="fib" style="stroke:#e6bfc3;stroke-width:0.8;stroke-opacity:0.9;" d="M725.6 202.6 L884.9 139.5"/>
<path class="fib" style="stroke:#e6bfc3;stroke-width:0.8;stroke-opacity:0.9;" d="M728.4 202.4 L887.1 144.5"/>
<path class="fib" style="stroke:#e6bfc3;stroke-width:0.8;stroke-opacity:0.9;" d="M731.1 202.2 L889.3 149.6"/>
<path class="fib" style="stroke:#e6bfc3;stroke-width:0.8;stroke-opacity:0.9;" d="M733.8 202.0 L891.5 154.7"/>
<path class="fib" style="stroke:#e6bfc3;stroke-width:0.8;stroke-opacity:0.9;" d="M736.5 201.9 L893.6 159.8"/>
<path class="fib" style="stroke:#e6bfc3;stroke-width:0.8;stroke-opacity:0.9;" d="M739.3 201.7 L895.8 164.9"/>
<path class="olb" style="stroke-width:1.5;" d="M898.0 170.0 L852.5 182.5 L802.5 192.5 L765.0 198.7 L727.5 203.7 L707.5 205.2 L695.5 204.5 L872.5 113.0"/>
<path class="olb" style="stroke-width:1.5;" d="M872.5 113.0 C873.1 113.3 874.8 113.5 876.0 115.0 C877.2 116.5 878.4 119.1 880.0 122.0 C881.6 124.9 883.8 129.3 885.5 132.5 C887.2 135.7 888.8 138.1 890.0 141.0 C891.2 143.9 892.0 146.8 893.0 150.0 C894.0 153.2 895.2 156.7 896.0 160.0 C896.8 163.3 897.7 168.3 898.0 170.0"/>
</g>

<!-- ================= ANNOTATIONS ================= -->
<g id="annot" filter="url(#soft)">
<!-- leader lines left -->
<path class="ld" d="M238 63 L151.5 101"/>
<path class="ld" d="M318.5 238 L228 322"/>
<path class="ld" d="M347 295.5 L247 323"/>
<path class="ld" d="M346 328.7 L281 336"/>
<path class="ld" d="M347 358.7 L257 345.3"/>
<path class="ld" d="M342 398.7 L257 378.5"/>
<path class="ld" d="M338 487.5 L277 487.5"/>
<!-- bracket -->
<path class="ld" d="M438 274 H461 V379 H438"/>
<path class="ld" d="M461 325.5 H496.5 V229"/>
<!-- red ellipses -->
<path fill="#ec1820" fill-rule="evenodd" d="M228.7 241.0 L230.8 241.0 L232.9 241.1 L234.9 241.3 L237.0 241.6 L239.1 241.9 L241.1 242.3 L243.2 242.8 L245.2 243.3 L247.2 244.0 L249.2 244.6 L251.2 245.4 L253.2 246.2 L255.2 247.1 L257.1 248.1 L259.0 249.1 L261.0 250.3 L262.8 251.4 L264.7 252.7 L266.5 254.0 L268.3 255.3 L270.1 256.8 L271.9 258.3 L273.6 259.8 L275.3 261.4 L277.0 263.1 L278.6 264.8 L280.2 266.6 L281.8 268.5 L283.3 270.4 L284.8 272.3 L286.2 274.3 L287.6 276.4 L289.0 278.5 L290.3 280.7 L291.6 282.9 L292.9 285.1 L294.1 287.4 L295.2 289.7 L296.3 292.1 L297.4 294.5 L298.4 296.9 L299.4 299.4 L300.3 301.9 L301.1 304.5 L302.0 307.1 L302.7 309.7 L303.5 312.3 L304.1 314.9 L304.7 317.6 L305.3 320.3 L305.8 323.0 L306.3 325.8 L306.7 328.5 L307.0 331.3 L307.3 334.0 L307.6 336.8 L307.8 339.6 L307.9 342.4 L308.0 345.2 L308.0 348.0 L307.9 350.9 L307.7 353.9 L307.5 356.8 L307.1 359.7 L306.7 362.6 L306.3 365.5 L305.8 368.4 L305.2 371.2 L304.6 374.1 L303.9 376.9 L303.2 379.8 L302.4 382.5 L301.6 385.3 L300.7 388.1 L299.8 390.8 L298.9 393.5 L297.9 396.1 L296.9 398.8 L295.8 401.3 L294.7 403.9 L293.5 406.4 L292.3 408.9 L291.1 411.3 L289.9 413.7 L288.6 416.1 L287.2 418.4 L285.9 420.6 L284.5 422.8 L283.1 425.0 L281.6 427.1 L280.1 429.1 L278.6 431.1 L277.1 433.0 L275.5 434.9 L273.9 436.7 L272.3 438.4 L270.7 440.1 L269.0 441.8 L267.3 443.3 L265.6 444.8 L263.9 446.3 L262.2 447.6 L260.4 448.9 L258.6 450.1 L256.8 451.3 L255.0 452.4 L253.2 453.4 L251.4 454.3 L249.5 455.2 L247.7 456.0 L245.8 456.7 L243.9 457.4 L242.0 457.9 L240.1 458.4 L238.2 458.8 L236.3 459.2 L234.4 459.5 L232.5 459.6 L230.6 459.8 L228.7 459.8 L226.8 459.8 L224.9 459.6 L223.0 459.5 L221.1 459.2 L219.2 458.8 L217.3 458.4 L215.4 457.9 L213.5 457.4 L211.6 456.7 L209.7 456.0 L207.9 455.2 L206.0 454.3 L204.2 453.4 L202.4 452.4 L200.6 451.3 L198.8 450.1 L197.0 448.9 L195.2 447.6 L193.5 446.3 L191.8 444.8 L190.1 443.3 L188.4 441.8 L186.7 440.1 L185.1 438.4 L183.5 436.7 L181.9 434.9 L180.3 433.0 L178.8 431.1 L177.3 429.1 L175.8 427.1 L174.3 425.0 L172.9 422.8 L171.5 420.6 L170.2 418.4 L168.8 416.1 L167.5 413.7 L166.3 411.3 L165.1 408.9 L163.9 406.4 L162.7 403.9 L161.6 401.3 L160.5 398.8 L159.5 396.1 L158.5 393.5 L157.6 390.8 L156.7 388.1 L155.8 385.3 L155.0 382.5 L154.2 379.8 L153.5 376.9 L152.8 374.1 L152.2 371.2 L151.6 368.4 L151.1 365.5 L150.7 362.6 L150.3 359.7 L149.9 356.8 L149.7 353.9 L149.5 350.9 L149.4 348.0 L149.4 345.2 L149.5 342.4 L149.6 339.6 L149.8 336.8 L150.1 334.0 L150.4 331.3 L150.7 328.5 L151.1 325.8 L151.6 323.0 L152.1 320.3 L152.7 317.6 L153.3 314.9 L153.9 312.3 L154.7 309.7 L155.4 307.1 L156.3 304.5 L157.1 301.9 L158.0 299.4 L159.0 296.9 L160.0 294.5 L161.1 292.1 L162.2 289.7 L163.3 287.4 L164.5 285.1 L165.8 282.9 L167.1 280.7 L168.4 278.5 L169.8 276.4 L171.2 274.3 L172.6 272.3 L174.1 270.4 L175.6 268.5 L177.2 266.6 L178.8 264.8 L180.4 263.1 L182.1 261.4 L183.8 259.8 L185.5 258.3 L187.3 256.8 L189.1 255.3 L190.9 254.0 L192.7 252.7 L194.6 251.4 L196.4 250.3 L198.4 249.1 L200.3 248.1 L202.2 247.1 L204.2 246.2 L206.2 245.4 L208.2 244.6 L210.2 244.0 L212.2 243.3 L214.2 242.8 L216.3 242.3 L218.3 241.9 L220.4 241.6 L222.5 241.3 L224.5 241.1 L226.6 241.0 Z M228.7 250.1 L230.5 250.1 L232.2 250.2 L234.0 250.4 L235.7 250.6 L237.5 250.9 L239.2 251.2 L240.9 251.6 L242.7 252.1 L244.4 252.6 L246.1 253.2 L247.8 253.9 L249.6 254.6 L251.2 255.3 L252.9 256.2 L254.6 257.1 L256.3 258.1 L257.9 259.1 L259.5 260.2 L261.2 261.3 L262.8 262.5 L264.3 263.8 L265.9 265.1 L267.4 266.5 L268.9 267.9 L270.4 269.4 L271.9 271.0 L273.3 272.6 L274.7 274.3 L276.1 276.0 L277.5 277.8 L278.8 279.6 L280.1 281.5 L281.3 283.4 L282.5 285.3 L283.7 287.4 L284.8 289.4 L285.9 291.5 L287.0 293.7 L288.0 295.9 L289.0 298.1 L289.9 300.3 L290.8 302.6 L291.7 305.0 L292.5 307.3 L293.3 309.7 L294.0 312.1 L294.6 314.6 L295.3 317.1 L295.8 319.6 L296.4 322.1 L296.8 324.6 L297.3 327.2 L297.7 329.7 L298.0 332.3 L298.3 334.9 L298.5 337.5 L298.7 340.1 L298.8 342.8 L298.9 345.4 L298.9 347.9 L298.8 350.5 L298.7 353.2 L298.4 355.9 L298.1 358.6 L297.7 361.3 L297.3 364.0 L296.8 366.7 L296.3 369.4 L295.7 372.1 L295.1 374.8 L294.4 377.4 L293.7 380.1 L292.9 382.7 L292.1 385.3 L291.2 387.8 L290.3 390.4 L289.4 392.9 L288.4 395.4 L287.4 397.8 L286.4 400.2 L285.3 402.6 L284.2 404.9 L283.0 407.2 L281.8 409.4 L280.6 411.6 L279.4 413.7 L278.1 415.8 L276.8 417.9 L275.5 419.9 L274.2 421.8 L272.8 423.7 L271.4 425.5 L270.0 427.3 L268.6 429.0 L267.2 430.6 L265.7 432.2 L264.2 433.7 L262.7 435.2 L261.2 436.6 L259.7 437.9 L258.2 439.2 L256.7 440.4 L255.1 441.5 L253.6 442.6 L252.0 443.6 L250.5 444.5 L248.9 445.4 L247.4 446.2 L245.8 446.9 L244.2 447.6 L242.7 448.2 L241.1 448.7 L239.6 449.2 L238.0 449.6 L236.5 449.9 L234.9 450.2 L233.4 450.4 L231.8 450.6 L230.2 450.7 L228.7 450.7 L227.2 450.7 L225.6 450.6 L224.0 450.4 L222.5 450.2 L220.9 449.9 L219.4 449.6 L217.8 449.2 L216.3 448.7 L214.7 448.2 L213.2 447.6 L211.6 446.9 L210.0 446.2 L208.5 445.4 L206.9 444.5 L205.4 443.6 L203.8 442.6 L202.3 441.5 L200.7 440.4 L199.2 439.2 L197.7 437.9 L196.2 436.6 L194.7 435.2 L193.2 433.7 L191.7 432.2 L190.2 430.6 L188.8 429.0 L187.4 427.3 L186.0 425.5 L184.6 423.7 L183.2 421.8 L181.9 419.9 L180.6 417.9 L179.3 415.8 L178.0 413.7 L176.8 411.6 L175.6 409.4 L174.4 407.2 L173.2 404.9 L172.1 402.6 L171.0 400.2 L170.0 397.8 L169.0 395.4 L168.0 392.9 L167.1 390.4 L166.2 387.8 L165.3 385.3 L164.5 382.7 L163.7 380.1 L163.0 377.4 L162.3 374.8 L161.7 372.1 L161.1 369.4 L160.6 366.7 L160.1 364.0 L159.7 361.3 L159.3 358.6 L159.0 355.9 L158.7 353.2 L158.6 350.5 L158.5 347.9 L158.5 345.4 L158.6 342.8 L158.7 340.1 L158.9 337.5 L159.1 334.9 L159.4 332.3 L159.7 329.7 L160.1 327.2 L160.6 324.6 L161.0 322.1 L161.6 319.6 L162.1 317.1 L162.8 314.6 L163.4 312.1 L164.1 309.7 L164.9 307.3 L165.7 305.0 L166.6 302.6 L167.5 300.3 L168.4 298.1 L169.4 295.9 L170.4 293.7 L171.5 291.5 L172.6 289.4 L173.7 287.4 L174.9 285.3 L176.1 283.4 L177.3 281.5 L178.6 279.6 L179.9 277.8 L181.3 276.0 L182.7 274.3 L184.1 272.6 L185.5 271.0 L187.0 269.4 L188.5 267.9 L190.0 266.5 L191.5 265.1 L193.1 263.8 L194.6 262.5 L196.2 261.3 L197.9 260.2 L199.5 259.1 L201.1 258.1 L202.8 257.1 L204.5 256.2 L206.2 255.3 L207.8 254.6 L209.6 253.9 L211.3 253.2 L213.0 252.6 L214.7 252.1 L216.5 251.6 L218.2 251.2 L219.9 250.9 L221.7 250.6 L223.4 250.4 L225.2 250.2 L226.9 250.1 Z"/>
<ellipse cx="802.1" cy="372.9" rx="88.8" ry="87.5" fill="none" stroke="#ea262b" stroke-width="7.5"/>
<!-- green arrows -->
<path d="M108 431 L191 375" stroke="#4cc58a" stroke-width="1.2" fill="none"/>
<path d="M197.5 371 L189.5 372.5 L193.5 378.5 Z" fill="#2fb872"/>
<path d="M621 532.5 L770 406.2" stroke="#4cc58a" stroke-width="1.2" fill="none"/>
<path d="M775.6 401.6 L767 403.6 L771.4 409.4 Z" fill="#2fb872"/>
<!-- green box -->
<rect x="13.5" y="431.5" width="117" height="48.5" fill="#ffffff" stroke="#7fd6a9" stroke-width="1.2"/>
</g>

<g id="labels" filter="url(#soft)">
<text class="lbl" font-size="24" transform="translate(243.73 61.79) scale(0.9855 0.9043)">大殿筋</text>
<text class="lbl" font-size="24" transform="translate(299.53 230.13) scale(0.9734 0.8913)">坐骨神経</text>
<text class="lbl" font-size="24" transform="translate(450.23 217.88) scale(0.9745 0.9391)">寛骨三筋</text>
<text class="lbl" font-size="24" transform="translate(352.03 300.18) scale(0.9681 0.9391)">上双子筋</text>
<text class="lbl" font-size="24" transform="translate(350.24 334.68) scale(0.9785 0.9391)">内閉鎖筋</text>
<text class="lbl" font-size="24" transform="translate(352.03 369.03) scale(0.9681 0.9217)">下双子筋</text>
<text class="lbl" font-size="24" transform="translate(347.73 408.29) scale(0.9855 0.9043)">大腿方形筋</text>
<text class="lbl" font-size="24" transform="translate(346.03 496.06) scale(0.9855 0.913)">大殿筋</text>
<text class="grn" font-size="24" transform="translate(25.73 465.69) scale(1.2714 1.1042)">下殿部</text>
<text class="grn" font-size="24" transform="translate(513.71 562.4) scale(1.2935 1.1)">外側ハムストリングス起始部</text>
</g>
</svg>
</body>
</html>
